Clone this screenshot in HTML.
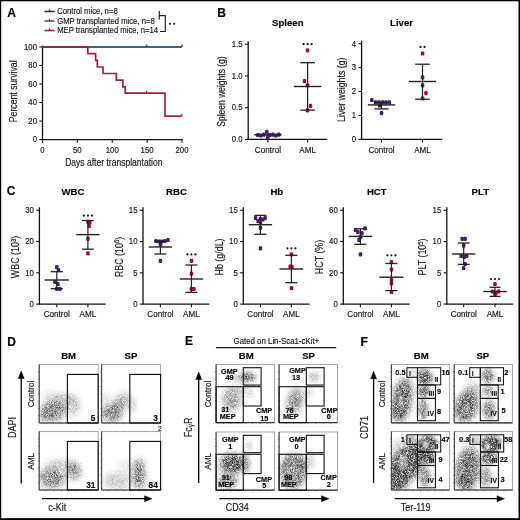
<!DOCTYPE html>
<html><head><meta charset="utf-8"><style>
html,body{margin:0;padding:0;background:#fff;}
svg{display:block;font-family:"Liberation Sans", sans-serif;will-change:transform;}
text{stroke:#1a1a1a;stroke-width:0.18px;}
</style></head><body>
<svg width="520" height="520" viewBox="0 0 520 520">
<defs><filter id="b1" x="-50%" y="-50%" width="200%" height="200%"><feGaussianBlur stdDeviation="1"/></filter><filter id="b2" x="-50%" y="-50%" width="200%" height="200%"><feGaussianBlur stdDeviation="2"/></filter><filter id="b3" x="-50%" y="-50%" width="200%" height="200%"><feGaussianBlur stdDeviation="3"/></filter><filter id="b4" x="-50%" y="-50%" width="200%" height="200%"><feGaussianBlur stdDeviation="4"/></filter><filter id="speck" x="0" y="0" width="520" height="520" filterUnits="userSpaceOnUse" color-interpolation-filters="sRGB">
<feTurbulence type="fractalNoise" baseFrequency="2.2" numOctaves="2" seed="7" result="noise"/>
<feColorMatrix in="noise" type="matrix" values="0 0 0 0 0  0 0 0 0 0  0 0 0 0 0  1.5 0 0 0 -0.25" result="na"/>
<feComposite in="SourceAlpha" in2="na" operator="arithmetic" k1="1.7" k2="0" k3="0" k4="0" result="d"/>
<feFlood flood-color="#3e3e3e" result="c"/>
<feComposite in="c" in2="d" operator="in"/>
</filter><clipPath id="c0"><rect x="39.2" y="364.6" width="59.0" height="58.4"/></clipPath><clipPath id="c1"><rect x="101.6" y="364.6" width="59.0" height="58.4"/></clipPath><clipPath id="c2"><rect x="39.2" y="431.6" width="59.0" height="58.4"/></clipPath><clipPath id="c3"><rect x="101.6" y="431.6" width="59.0" height="58.4"/></clipPath><clipPath id="c4"><rect x="216.1" y="364.4" width="58.4" height="58.2"/></clipPath><clipPath id="c5"><rect x="279.1" y="364.4" width="58.4" height="58.2"/></clipPath><clipPath id="c6"><rect x="216.1" y="432.0" width="58.4" height="58.2"/></clipPath><clipPath id="c7"><rect x="279.1" y="432.0" width="58.4" height="58.2"/></clipPath><clipPath id="c8"><rect x="391.4" y="364.5" width="58.2" height="58.4"/></clipPath><clipPath id="c9"><rect x="454.2" y="364.5" width="58.2" height="58.4"/></clipPath><clipPath id="c10"><rect x="391.4" y="431.6" width="58.2" height="58.4"/></clipPath><clipPath id="c11"><rect x="454.4" y="431.6" width="58.2" height="58.4"/></clipPath></defs>
<rect x="0" y="0" width="520" height="520" fill="#fff"/>
<text x="0" y="0" font-size="12.00" text-anchor="start" font-weight="bold" fill="#000" transform="translate(7.2 17.2)">A</text>
<line x1="44.5" y1="11.5" x2="54.5" y2="11.5" stroke="#3b2b5c" stroke-width="1.6"/>
<line x1="49.5" y1="9.3" x2="49.5" y2="11.5" stroke="#3b2b5c" stroke-width="1.2"/>
<text x="0" y="0" font-size="8.32" text-anchor="start" fill="#1a1a1a" transform="translate(57.2 14.3) scale(0.9259,1)">Control mice, n=8</text>
<line x1="44.5" y1="21.0" x2="54.5" y2="21.0" stroke="#3e5d7e" stroke-width="1.6"/>
<line x1="49.5" y1="18.8" x2="49.5" y2="21.0" stroke="#3e5d7e" stroke-width="1.2"/>
<text x="0" y="0" font-size="8.32" text-anchor="start" fill="#1a1a1a" transform="translate(57.2 23.8) scale(0.9259,1)">GMP transplanted mice, n=8</text>
<line x1="44.5" y1="30.5" x2="54.5" y2="30.5" stroke="#a2203e" stroke-width="1.6"/>
<line x1="49.5" y1="28.3" x2="49.5" y2="30.5" stroke="#a2203e" stroke-width="1.2"/>
<text x="0" y="0" font-size="8.32" text-anchor="start" fill="#1a1a1a" transform="translate(57.2 33.3) scale(0.9259,1)">MEP transplanted mice, n=14</text>
<path d="M159.3 11 V19.5 M159.3 15.6 H165.3 V31.5 H160" stroke="#222" stroke-width="1.2" fill="none"/>
<circle cx="170" cy="23.8" r="1.1" fill="#222"/><circle cx="174.2" cy="23.8" r="1.1" fill="#222"/>
<line x1="42.5" y1="45.5" x2="42.5" y2="140.1" stroke="#111" stroke-width="1.3"/>
<line x1="41.9" y1="139.6" x2="183" y2="139.6" stroke="#111" stroke-width="1.3"/>
<line x1="39.3" y1="139.6" x2="42.5" y2="139.6" stroke="#111" stroke-width="1.1"/>
<text x="0" y="0" font-size="8.42" text-anchor="end" fill="#1a1a1a" transform="translate(37 142.4) scale(0.9259,1)">0</text>
<line x1="39.3" y1="121.08" x2="42.5" y2="121.08" stroke="#111" stroke-width="1.1"/>
<text x="0" y="0" font-size="8.42" text-anchor="end" fill="#1a1a1a" transform="translate(37 123.88) scale(0.9259,1)">20</text>
<line x1="39.3" y1="102.56" x2="42.5" y2="102.56" stroke="#111" stroke-width="1.1"/>
<text x="0" y="0" font-size="8.42" text-anchor="end" fill="#1a1a1a" transform="translate(37 105.36) scale(0.9259,1)">40</text>
<line x1="39.3" y1="84.03999999999999" x2="42.5" y2="84.03999999999999" stroke="#111" stroke-width="1.1"/>
<text x="0" y="0" font-size="8.42" text-anchor="end" fill="#1a1a1a" transform="translate(37 86.83999999999999) scale(0.9259,1)">60</text>
<line x1="39.3" y1="65.52" x2="42.5" y2="65.52" stroke="#111" stroke-width="1.1"/>
<text x="0" y="0" font-size="8.42" text-anchor="end" fill="#1a1a1a" transform="translate(37 68.32) scale(0.9259,1)">80</text>
<line x1="39.3" y1="47.0" x2="42.5" y2="47.0" stroke="#111" stroke-width="1.1"/>
<text x="0" y="0" font-size="8.42" text-anchor="end" fill="#1a1a1a" transform="translate(37 49.8) scale(0.9259,1)">100</text>
<line x1="42.5" y1="139.6" x2="42.5" y2="142.79999999999998" stroke="#111" stroke-width="1.1"/>
<text x="0" y="0" font-size="8.42" text-anchor="middle" fill="#1a1a1a" transform="translate(42.5 153) scale(0.9259,1)">0</text>
<line x1="77.375" y1="139.6" x2="77.375" y2="142.79999999999998" stroke="#111" stroke-width="1.1"/>
<text x="0" y="0" font-size="8.42" text-anchor="middle" fill="#1a1a1a" transform="translate(77.375 153) scale(0.9259,1)">50</text>
<line x1="112.25" y1="139.6" x2="112.25" y2="142.79999999999998" stroke="#111" stroke-width="1.1"/>
<text x="0" y="0" font-size="8.42" text-anchor="middle" fill="#1a1a1a" transform="translate(112.25 153) scale(0.9259,1)">100</text>
<line x1="147.125" y1="139.6" x2="147.125" y2="142.79999999999998" stroke="#111" stroke-width="1.1"/>
<text x="0" y="0" font-size="8.42" text-anchor="middle" fill="#1a1a1a" transform="translate(147.125 153) scale(0.9259,1)">150</text>
<line x1="182.0" y1="139.6" x2="182.0" y2="142.79999999999998" stroke="#111" stroke-width="1.1"/>
<text x="0" y="0" font-size="8.42" text-anchor="middle" fill="#1a1a1a" transform="translate(182.0 153) scale(0.9259,1)">200</text>
<text x="0" y="0" font-size="11.14" text-anchor="middle" fill="#1a1a1a" transform="translate(17.0 91.3) rotate(-90) scale(0.7812,1)">Percent survival</text>
<text x="0" y="0" font-size="11.12" text-anchor="middle" fill="#1a1a1a" transform="translate(113.8 165.8) scale(0.7692,1)">Days after transplantation</text>
<path d="M42.5 47.0 H182" stroke="#3b2b5c" stroke-width="1.6" fill="none"/>
<path d="M42.5 47.0 H182 M146.6 47.0 v-2.5 M181.9 47.0 v-2.5" stroke="#3e5d7e" stroke-width="1.6" fill="none"/>
<path d="M42.5 47.0 H87.8 V53.6 H95.6 V60.4 H97.3 V67.0 H103.0 V73.5 H116.3 V80.2 H122.9 V86.8 H125.2 V93.2 H165.0 V116.2 H181.9" stroke="#a2203e" stroke-width="1.7" fill="none" stroke-linejoin="miter"/>
<path d="M146.6 93.2 v-2.5 M181.9 116.2 v-2.5" stroke="#a2203e" stroke-width="1.2" fill="none"/>
<text x="0" y="0" font-size="12.00" text-anchor="start" font-weight="bold" fill="#000" transform="translate(217.2 17.3)">B</text>
<line x1="248.2" y1="41.2" x2="248.2" y2="139.9" stroke="#111" stroke-width="1.3"/>
<line x1="247.6" y1="139.4" x2="327.3" y2="139.4" stroke="#111" stroke-width="1.3"/>
<line x1="245.0" y1="139.4" x2="248.2" y2="139.4" stroke="#111" stroke-width="1.1"/>
<text x="0" y="0" font-size="8.42" text-anchor="end" fill="#1a1a1a" transform="translate(242.7 142.20000000000002) scale(0.9259,1)">0.0</text>
<line x1="245.0" y1="107.66666666666667" x2="248.2" y2="107.66666666666667" stroke="#111" stroke-width="1.1"/>
<text x="0" y="0" font-size="8.42" text-anchor="end" fill="#1a1a1a" transform="translate(242.7 110.46666666666667) scale(0.9259,1)">0.5</text>
<line x1="245.0" y1="75.93333333333334" x2="248.2" y2="75.93333333333334" stroke="#111" stroke-width="1.1"/>
<text x="0" y="0" font-size="8.42" text-anchor="end" fill="#1a1a1a" transform="translate(242.7 78.73333333333333) scale(0.9259,1)">1.0</text>
<line x1="245.0" y1="44.2" x2="248.2" y2="44.2" stroke="#111" stroke-width="1.1"/>
<text x="0" y="0" font-size="8.42" text-anchor="end" fill="#1a1a1a" transform="translate(242.7 47.0) scale(0.9259,1)">1.5</text>
<line x1="267.9" y1="139.4" x2="267.9" y2="142.6" stroke="#111" stroke-width="1.1"/>
<line x1="307.59999999999997" y1="139.4" x2="307.59999999999997" y2="142.6" stroke="#111" stroke-width="1.1"/>
<text x="0" y="0" font-size="8.75" text-anchor="middle" fill="#1a1a1a" transform="translate(267.9 152.8) scale(0.9259,1)">Control</text>
<text x="0" y="0" font-size="8.75" text-anchor="middle" fill="#1a1a1a" transform="translate(307.59999999999997 152.8) scale(0.9259,1)">AML</text>
<text x="0" y="0" font-size="9.89" text-anchor="middle" font-weight="bold" fill="#000" transform="translate(287.8 26) scale(0.9709,1)">Spleen</text>
<text x="0" y="0" font-size="10.20" text-anchor="middle" fill="#1a1a1a" transform="translate(225.3 91.5) rotate(-90) scale(0.8333,1)">Spleen weights (g)</text>
<rect x="256.1" y="132.9" width="3.5" height="4.2" rx="1.2" fill="#4a1f66"/>
<rect x="259.1" y="133.4" width="3.5" height="4.2" rx="1.2" fill="#4a1f66"/>
<rect x="262.1" y="132.5" width="3.5" height="4.2" rx="1.2" fill="#4a1f66"/>
<rect x="265.1" y="129.7" width="3.5" height="4.2" rx="1.2" fill="#4a1f66"/>
<rect x="268.1" y="132.9" width="3.5" height="4.2" rx="1.2" fill="#4a1f66"/>
<rect x="271.1" y="132.5" width="3.5" height="4.2" rx="1.2" fill="#4a1f66"/>
<rect x="274.1" y="133.4" width="3.5" height="4.2" rx="1.2" fill="#4a1f66"/>
<rect x="277.1" y="132.5" width="3.5" height="4.2" rx="1.2" fill="#4a1f66"/>
<rect x="266.1" y="134.9" width="3.5" height="4.2" rx="1.2" fill="#4a1f66"/>
<line x1="267.9" y1="134.8" x2="267.9" y2="134.8" stroke="#222" stroke-width="1.2"/>
<line x1="267.9" y1="134.8" x2="267.9" y2="134.8" stroke="#222" stroke-width="1.3"/>
<line x1="267.9" y1="134.8" x2="267.9" y2="134.8" stroke="#222" stroke-width="1.3"/>
<line x1="254.24999999999997" y1="134.8" x2="281.54999999999995" y2="134.8" stroke="#222" stroke-width="1.4"/>
<rect x="305.8" y="48.2" width="3.5" height="4.2" rx="1.2" fill="#9a1535"/>
<rect x="302.8" y="79.0" width="3.5" height="4.2" rx="1.2" fill="#9a1535"/>
<rect x="305.8" y="83.2" width="3.5" height="4.2" rx="1.2" fill="#9a1535"/>
<rect x="308.8" y="103.7" width="3.5" height="4.2" rx="1.2" fill="#9a1535"/>
<rect x="305.8" y="108.3" width="3.5" height="4.2" rx="1.2" fill="#9a1535"/>
<line x1="307.59999999999997" y1="62.7" x2="307.59999999999997" y2="110.1" stroke="#222" stroke-width="1.2"/>
<line x1="300.29999999999995" y1="62.7" x2="314.9" y2="62.7" stroke="#222" stroke-width="1.3"/>
<line x1="300.29999999999995" y1="110.1" x2="314.9" y2="110.1" stroke="#222" stroke-width="1.3"/>
<line x1="293.84999999999997" y1="86.5" x2="321.34999999999997" y2="86.5" stroke="#222" stroke-width="1.4"/>
<circle cx="303.6" cy="44.2" r="1.1" fill="#111"/>
<circle cx="307.6" cy="44.2" r="1.1" fill="#111"/>
<circle cx="311.6" cy="44.2" r="1.1" fill="#111"/>
<line x1="361.6" y1="40.7" x2="361.6" y2="139.9" stroke="#111" stroke-width="1.3"/>
<line x1="361.0" y1="139.4" x2="442.4" y2="139.4" stroke="#111" stroke-width="1.3"/>
<line x1="358.40000000000003" y1="139.4" x2="361.6" y2="139.4" stroke="#111" stroke-width="1.1"/>
<text x="0" y="0" font-size="8.42" text-anchor="end" fill="#1a1a1a" transform="translate(356.1 142.20000000000002) scale(0.9259,1)">0</text>
<line x1="358.40000000000003" y1="115.47500000000001" x2="361.6" y2="115.47500000000001" stroke="#111" stroke-width="1.1"/>
<text x="0" y="0" font-size="8.42" text-anchor="end" fill="#1a1a1a" transform="translate(356.1 118.275) scale(0.9259,1)">1</text>
<line x1="358.40000000000003" y1="91.55000000000001" x2="361.6" y2="91.55000000000001" stroke="#111" stroke-width="1.1"/>
<text x="0" y="0" font-size="8.42" text-anchor="end" fill="#1a1a1a" transform="translate(356.1 94.35000000000001) scale(0.9259,1)">2</text>
<line x1="358.40000000000003" y1="67.625" x2="361.6" y2="67.625" stroke="#111" stroke-width="1.1"/>
<text x="0" y="0" font-size="8.42" text-anchor="end" fill="#1a1a1a" transform="translate(356.1 70.425) scale(0.9259,1)">3</text>
<line x1="358.40000000000003" y1="43.7" x2="361.6" y2="43.7" stroke="#111" stroke-width="1.1"/>
<text x="0" y="0" font-size="8.42" text-anchor="end" fill="#1a1a1a" transform="translate(356.1 46.5) scale(0.9259,1)">4</text>
<line x1="381.5" y1="139.4" x2="381.5" y2="142.6" stroke="#111" stroke-width="1.1"/>
<line x1="422.5" y1="139.4" x2="422.5" y2="142.6" stroke="#111" stroke-width="1.1"/>
<text x="0" y="0" font-size="8.75" text-anchor="middle" fill="#1a1a1a" transform="translate(381.5 152.9) scale(0.9259,1)">Control</text>
<text x="0" y="0" font-size="8.75" text-anchor="middle" fill="#1a1a1a" transform="translate(422.5 152.9) scale(0.9259,1)">AML</text>
<text x="0" y="0" font-size="9.89" text-anchor="middle" font-weight="bold" fill="#000" transform="translate(401.5 26) scale(0.9709,1)">Liver</text>
<text x="0" y="0" font-size="10.56" text-anchor="middle" fill="#1a1a1a" transform="translate(345.3 89.7) rotate(-90) scale(0.8333,1)">Liver weights (g)</text>
<rect x="370.1" y="97.9" width="3.5" height="4.2" rx="1.2" fill="#4a1f66"/>
<rect x="373.8" y="100.2" width="3.5" height="4.2" rx="1.2" fill="#4a1f66"/>
<rect x="377.2" y="100.2" width="3.5" height="4.2" rx="1.2" fill="#4a1f66"/>
<rect x="380.8" y="100.2" width="3.5" height="4.2" rx="1.2" fill="#4a1f66"/>
<rect x="384.2" y="100.2" width="3.5" height="4.2" rx="1.2" fill="#4a1f66"/>
<rect x="387.6" y="100.2" width="3.5" height="4.2" rx="1.2" fill="#4a1f66"/>
<rect x="377.8" y="103.4" width="3.5" height="4.2" rx="1.2" fill="#4a1f66"/>
<rect x="379.8" y="111.0" width="3.5" height="4.2" rx="1.2" fill="#4a1f66"/>
<line x1="381.5" y1="102.4" x2="381.5" y2="108.9" stroke="#222" stroke-width="1.2"/>
<line x1="374.35" y1="102.4" x2="388.65" y2="102.4" stroke="#222" stroke-width="1.3"/>
<line x1="374.35" y1="108.9" x2="388.65" y2="108.9" stroke="#222" stroke-width="1.3"/>
<line x1="367.85" y1="104.9" x2="395.15" y2="104.9" stroke="#222" stroke-width="1.4"/>
<rect x="420.8" y="51.4" width="3.5" height="4.2" rx="1.2" fill="#9a1535"/>
<rect x="420.8" y="75.3" width="3.5" height="4.2" rx="1.2" fill="#9a1535"/>
<rect x="420.8" y="83.3" width="3.5" height="4.2" rx="1.2" fill="#9a1535"/>
<rect x="424.2" y="91.0" width="3.5" height="4.2" rx="1.2" fill="#9a1535"/>
<rect x="420.8" y="96.4" width="3.5" height="4.2" rx="1.2" fill="#9a1535"/>
<line x1="422.5" y1="64.2" x2="422.5" y2="99.2" stroke="#222" stroke-width="1.2"/>
<line x1="415.2" y1="64.2" x2="429.8" y2="64.2" stroke="#222" stroke-width="1.3"/>
<line x1="415.2" y1="99.2" x2="429.8" y2="99.2" stroke="#222" stroke-width="1.3"/>
<line x1="408.85" y1="81.5" x2="436.15" y2="81.5" stroke="#222" stroke-width="1.4"/>
<circle cx="420.5" cy="46.9" r="1.1" fill="#111"/>
<circle cx="424.5" cy="46.9" r="1.1" fill="#111"/>
<text x="0" y="0" font-size="12.00" text-anchor="start" font-weight="bold" fill="#000" transform="translate(6.8 194.5)">C</text>
<line x1="39.4" y1="207.3" x2="39.4" y2="304.6" stroke="#111" stroke-width="1.3"/>
<line x1="38.8" y1="304.1" x2="105.80000000000001" y2="304.1" stroke="#111" stroke-width="1.3"/>
<line x1="36.199999999999996" y1="304.1" x2="39.4" y2="304.1" stroke="#111" stroke-width="1.1"/>
<text x="0" y="0" font-size="8.42" text-anchor="end" fill="#1a1a1a" transform="translate(33.9 306.90000000000003) scale(0.9259,1)">0</text>
<line x1="36.199999999999996" y1="272.83333333333337" x2="39.4" y2="272.83333333333337" stroke="#111" stroke-width="1.1"/>
<text x="0" y="0" font-size="8.42" text-anchor="end" fill="#1a1a1a" transform="translate(33.9 275.6333333333334) scale(0.9259,1)">10</text>
<line x1="36.199999999999996" y1="241.5666666666667" x2="39.4" y2="241.5666666666667" stroke="#111" stroke-width="1.1"/>
<text x="0" y="0" font-size="8.42" text-anchor="end" fill="#1a1a1a" transform="translate(33.9 244.3666666666667) scale(0.9259,1)">20</text>
<line x1="36.199999999999996" y1="210.3" x2="39.4" y2="210.3" stroke="#111" stroke-width="1.1"/>
<text x="0" y="0" font-size="8.42" text-anchor="end" fill="#1a1a1a" transform="translate(33.9 213.10000000000002) scale(0.9259,1)">30</text>
<line x1="56.8" y1="304.1" x2="56.8" y2="307.3" stroke="#111" stroke-width="1.1"/>
<line x1="87.9" y1="304.1" x2="87.9" y2="307.3" stroke="#111" stroke-width="1.1"/>
<text x="0" y="0" font-size="8.75" text-anchor="middle" fill="#1a1a1a" transform="translate(56.8 316.8) scale(0.9259,1)">Control</text>
<text x="0" y="0" font-size="8.75" text-anchor="middle" fill="#1a1a1a" transform="translate(87.9 316.8) scale(0.9259,1)">AML</text>
<text x="0" y="0" font-size="9.89" text-anchor="middle" font-weight="bold" fill="#000" transform="translate(72.9 194.8) scale(0.9709,1)">WBC</text>
<text x="0" y="0" font-size="10.68" text-anchor="middle" fill="#1a1a1a" transform="translate(19.0 257) rotate(-90) scale(0.8333,1)">WBC (10<tspan font-size="7" dy="-3.4">3</tspan><tspan dy="3.4">)</tspan></text>
<rect x="55.0" y="265.1" width="3.5" height="4.2" rx="1.2" fill="#4a1f66"/>
<rect x="56.8" y="267.9" width="3.5" height="4.2" rx="1.2" fill="#4a1f66"/>
<rect x="53.2" y="279.9" width="3.5" height="4.2" rx="1.2" fill="#4a1f66"/>
<rect x="56.2" y="281.9" width="3.5" height="4.2" rx="1.2" fill="#4a1f66"/>
<rect x="55.0" y="286.7" width="3.5" height="4.2" rx="1.2" fill="#4a1f66"/>
<rect x="58.2" y="286.7" width="3.5" height="4.2" rx="1.2" fill="#4a1f66"/>
<line x1="56.8" y1="271.7" x2="56.8" y2="288.7" stroke="#222" stroke-width="1.2"/>
<line x1="50.65" y1="271.7" x2="62.949999999999996" y2="271.7" stroke="#222" stroke-width="1.3"/>
<line x1="50.65" y1="288.7" x2="62.949999999999996" y2="288.7" stroke="#222" stroke-width="1.3"/>
<line x1="44.65" y1="280.0" x2="68.95" y2="280.0" stroke="#222" stroke-width="1.4"/>
<rect x="86.2" y="219.7" width="3.5" height="4.2" rx="1.2" fill="#9a1535"/>
<rect x="88.0" y="220.4" width="3.5" height="4.2" rx="1.2" fill="#9a1535"/>
<rect x="87.4" y="223.9" width="3.5" height="4.2" rx="1.2" fill="#9a1535"/>
<rect x="86.2" y="236.7" width="3.5" height="4.2" rx="1.2" fill="#9a1535"/>
<rect x="86.2" y="251.3" width="3.5" height="4.2" rx="1.2" fill="#9a1535"/>
<line x1="87.9" y1="220.5" x2="87.9" y2="249.2" stroke="#222" stroke-width="1.2"/>
<line x1="82.05000000000001" y1="220.5" x2="93.75" y2="220.5" stroke="#222" stroke-width="1.3"/>
<line x1="82.05000000000001" y1="249.2" x2="93.75" y2="249.2" stroke="#222" stroke-width="1.3"/>
<line x1="76.30000000000001" y1="234.6" x2="99.5" y2="234.6" stroke="#222" stroke-width="1.4"/>
<circle cx="83.9" cy="215.6" r="1.1" fill="#111"/>
<circle cx="87.9" cy="215.6" r="1.1" fill="#111"/>
<circle cx="91.9" cy="215.6" r="1.1" fill="#111"/>
<line x1="143.0" y1="207.3" x2="143.0" y2="304.6" stroke="#111" stroke-width="1.3"/>
<line x1="142.4" y1="304.1" x2="209.4" y2="304.1" stroke="#111" stroke-width="1.3"/>
<line x1="139.8" y1="304.1" x2="143.0" y2="304.1" stroke="#111" stroke-width="1.1"/>
<text x="0" y="0" font-size="8.42" text-anchor="end" fill="#1a1a1a" transform="translate(137.5 306.90000000000003) scale(0.9259,1)">0</text>
<line x1="139.8" y1="272.83333333333337" x2="143.0" y2="272.83333333333337" stroke="#111" stroke-width="1.1"/>
<text x="0" y="0" font-size="8.42" text-anchor="end" fill="#1a1a1a" transform="translate(137.5 275.6333333333334) scale(0.9259,1)">5</text>
<line x1="139.8" y1="241.5666666666667" x2="143.0" y2="241.5666666666667" stroke="#111" stroke-width="1.1"/>
<text x="0" y="0" font-size="8.42" text-anchor="end" fill="#1a1a1a" transform="translate(137.5 244.3666666666667) scale(0.9259,1)">10</text>
<line x1="139.8" y1="210.3" x2="143.0" y2="210.3" stroke="#111" stroke-width="1.1"/>
<text x="0" y="0" font-size="8.42" text-anchor="end" fill="#1a1a1a" transform="translate(137.5 213.10000000000002) scale(0.9259,1)">15</text>
<line x1="160.4" y1="304.1" x2="160.4" y2="307.3" stroke="#111" stroke-width="1.1"/>
<line x1="191.4" y1="304.1" x2="191.4" y2="307.3" stroke="#111" stroke-width="1.1"/>
<text x="0" y="0" font-size="8.75" text-anchor="middle" fill="#1a1a1a" transform="translate(160.4 316.8) scale(0.9259,1)">Control</text>
<text x="0" y="0" font-size="8.75" text-anchor="middle" fill="#1a1a1a" transform="translate(191.4 316.8) scale(0.9259,1)">AML</text>
<text x="0" y="0" font-size="9.89" text-anchor="middle" font-weight="bold" fill="#000" transform="translate(176.5 194.8) scale(0.9709,1)">RBC</text>
<text x="0" y="0" font-size="10.68" text-anchor="middle" fill="#1a1a1a" transform="translate(122.6 257) rotate(-90) scale(0.8333,1)">RBC (10<tspan font-size="7" dy="-3.4">6</tspan><tspan dy="3.4">)</tspan></text>
<rect x="154.2" y="238.9" width="3.5" height="4.2" rx="1.2" fill="#4a1f66"/>
<rect x="157.2" y="239.4" width="3.5" height="4.2" rx="1.2" fill="#4a1f66"/>
<rect x="160.2" y="239.4" width="3.5" height="4.2" rx="1.2" fill="#4a1f66"/>
<rect x="163.2" y="238.9" width="3.5" height="4.2" rx="1.2" fill="#4a1f66"/>
<rect x="166.2" y="237.9" width="3.5" height="4.2" rx="1.2" fill="#4a1f66"/>
<rect x="158.7" y="242.4" width="3.5" height="4.2" rx="1.2" fill="#4a1f66"/>
<rect x="158.7" y="258.7" width="3.5" height="4.2" rx="1.2" fill="#4a1f66"/>
<line x1="160.4" y1="241.0" x2="160.4" y2="254.0" stroke="#222" stroke-width="1.2"/>
<line x1="154.35" y1="241.0" x2="166.45000000000002" y2="241.0" stroke="#222" stroke-width="1.3"/>
<line x1="154.35" y1="254.0" x2="166.45000000000002" y2="254.0" stroke="#222" stroke-width="1.3"/>
<line x1="148.70000000000002" y1="247.0" x2="172.1" y2="247.0" stroke="#222" stroke-width="1.4"/>
<rect x="189.7" y="258.7" width="3.5" height="4.2" rx="1.2" fill="#9a1535"/>
<rect x="189.7" y="271.5" width="3.5" height="4.2" rx="1.2" fill="#9a1535"/>
<rect x="189.7" y="287.0" width="3.5" height="4.2" rx="1.2" fill="#9a1535"/>
<rect x="192.2" y="286.9" width="3.5" height="4.2" rx="1.2" fill="#9a1535"/>
<line x1="191.4" y1="265.0" x2="191.4" y2="292.4" stroke="#222" stroke-width="1.2"/>
<line x1="185.35" y1="265.0" x2="197.45000000000002" y2="265.0" stroke="#222" stroke-width="1.3"/>
<line x1="185.35" y1="292.4" x2="197.45000000000002" y2="292.4" stroke="#222" stroke-width="1.3"/>
<line x1="179.70000000000002" y1="279.0" x2="203.1" y2="279.0" stroke="#222" stroke-width="1.4"/>
<circle cx="187.4" cy="254.4" r="1.1" fill="#111"/>
<circle cx="191.4" cy="254.4" r="1.1" fill="#111"/>
<circle cx="195.4" cy="254.4" r="1.1" fill="#111"/>
<line x1="243.3" y1="207.3" x2="243.3" y2="304.6" stroke="#111" stroke-width="1.3"/>
<line x1="242.70000000000002" y1="304.1" x2="309.70000000000005" y2="304.1" stroke="#111" stroke-width="1.3"/>
<line x1="240.10000000000002" y1="304.1" x2="243.3" y2="304.1" stroke="#111" stroke-width="1.1"/>
<text x="0" y="0" font-size="8.42" text-anchor="end" fill="#1a1a1a" transform="translate(237.8 306.90000000000003) scale(0.9259,1)">0</text>
<line x1="240.10000000000002" y1="272.83333333333337" x2="243.3" y2="272.83333333333337" stroke="#111" stroke-width="1.1"/>
<text x="0" y="0" font-size="8.42" text-anchor="end" fill="#1a1a1a" transform="translate(237.8 275.6333333333334) scale(0.9259,1)">5</text>
<line x1="240.10000000000002" y1="241.5666666666667" x2="243.3" y2="241.5666666666667" stroke="#111" stroke-width="1.1"/>
<text x="0" y="0" font-size="8.42" text-anchor="end" fill="#1a1a1a" transform="translate(237.8 244.3666666666667) scale(0.9259,1)">10</text>
<line x1="240.10000000000002" y1="210.3" x2="243.3" y2="210.3" stroke="#111" stroke-width="1.1"/>
<text x="0" y="0" font-size="8.42" text-anchor="end" fill="#1a1a1a" transform="translate(237.8 213.10000000000002) scale(0.9259,1)">15</text>
<line x1="260.40000000000003" y1="304.1" x2="260.40000000000003" y2="307.3" stroke="#111" stroke-width="1.1"/>
<line x1="291.40000000000003" y1="304.1" x2="291.40000000000003" y2="307.3" stroke="#111" stroke-width="1.1"/>
<text x="0" y="0" font-size="8.75" text-anchor="middle" fill="#1a1a1a" transform="translate(260.40000000000003 316.8) scale(0.9259,1)">Control</text>
<text x="0" y="0" font-size="8.75" text-anchor="middle" fill="#1a1a1a" transform="translate(291.40000000000003 316.8) scale(0.9259,1)">AML</text>
<text x="0" y="0" font-size="9.89" text-anchor="middle" font-weight="bold" fill="#000" transform="translate(276.8 194.8) scale(0.9709,1)">Hb</text>
<text x="0" y="0" font-size="10.68" text-anchor="middle" fill="#1a1a1a" transform="translate(222.9 257) rotate(-90) scale(0.8333,1)">Hb (g/dL)</text>
<rect x="253.8" y="215.9" width="3.5" height="4.2" rx="1.2" fill="#4a1f66"/>
<rect x="256.3" y="218.9" width="3.5" height="4.2" rx="1.2" fill="#4a1f66"/>
<rect x="258.7" y="216.9" width="3.5" height="4.2" rx="1.2" fill="#4a1f66"/>
<rect x="261.1" y="217.4" width="3.5" height="4.2" rx="1.2" fill="#4a1f66"/>
<rect x="263.4" y="215.9" width="3.5" height="4.2" rx="1.2" fill="#4a1f66"/>
<rect x="258.7" y="220.9" width="3.5" height="4.2" rx="1.2" fill="#4a1f66"/>
<rect x="258.7" y="225.8" width="3.5" height="4.2" rx="1.2" fill="#4a1f66"/>
<rect x="258.7" y="246.2" width="3.5" height="4.2" rx="1.2" fill="#4a1f66"/>
<line x1="260.40000000000003" y1="215.4" x2="260.40000000000003" y2="234.3" stroke="#222" stroke-width="1.2"/>
<line x1="254.35000000000002" y1="215.4" x2="266.45000000000005" y2="215.4" stroke="#222" stroke-width="1.3"/>
<line x1="254.35000000000002" y1="234.3" x2="266.45000000000005" y2="234.3" stroke="#222" stroke-width="1.3"/>
<line x1="248.70000000000005" y1="224.7" x2="272.1" y2="224.7" stroke="#222" stroke-width="1.4"/>
<rect x="289.7" y="252.3" width="3.5" height="4.2" rx="1.2" fill="#9a1535"/>
<rect x="288.5" y="264.4" width="3.5" height="4.2" rx="1.2" fill="#9a1535"/>
<rect x="290.2" y="264.7" width="3.5" height="4.2" rx="1.2" fill="#9a1535"/>
<rect x="289.7" y="286.1" width="3.5" height="4.2" rx="1.2" fill="#9a1535"/>
<line x1="291.40000000000003" y1="255.3" x2="291.40000000000003" y2="282.7" stroke="#222" stroke-width="1.2"/>
<line x1="285.35" y1="255.3" x2="297.45000000000005" y2="255.3" stroke="#222" stroke-width="1.3"/>
<line x1="285.35" y1="282.7" x2="297.45000000000005" y2="282.7" stroke="#222" stroke-width="1.3"/>
<line x1="279.55" y1="269.0" x2="303.25000000000006" y2="269.0" stroke="#222" stroke-width="1.4"/>
<circle cx="287.4" cy="248.3" r="1.1" fill="#111"/>
<circle cx="291.4" cy="248.3" r="1.1" fill="#111"/>
<circle cx="295.4" cy="248.3" r="1.1" fill="#111"/>
<line x1="343.3" y1="207.3" x2="343.3" y2="304.6" stroke="#111" stroke-width="1.3"/>
<line x1="342.7" y1="304.1" x2="409.70000000000005" y2="304.1" stroke="#111" stroke-width="1.3"/>
<line x1="340.1" y1="304.1" x2="343.3" y2="304.1" stroke="#111" stroke-width="1.1"/>
<text x="0" y="0" font-size="8.42" text-anchor="end" fill="#1a1a1a" transform="translate(337.8 306.90000000000003) scale(0.9259,1)">0</text>
<line x1="340.1" y1="272.83333333333337" x2="343.3" y2="272.83333333333337" stroke="#111" stroke-width="1.1"/>
<text x="0" y="0" font-size="8.42" text-anchor="end" fill="#1a1a1a" transform="translate(337.8 275.6333333333334) scale(0.9259,1)">20</text>
<line x1="340.1" y1="241.5666666666667" x2="343.3" y2="241.5666666666667" stroke="#111" stroke-width="1.1"/>
<text x="0" y="0" font-size="8.42" text-anchor="end" fill="#1a1a1a" transform="translate(337.8 244.3666666666667) scale(0.9259,1)">40</text>
<line x1="340.1" y1="210.3" x2="343.3" y2="210.3" stroke="#111" stroke-width="1.1"/>
<text x="0" y="0" font-size="8.42" text-anchor="end" fill="#1a1a1a" transform="translate(337.8 213.10000000000002) scale(0.9259,1)">60</text>
<line x1="360.40000000000003" y1="304.1" x2="360.40000000000003" y2="307.3" stroke="#111" stroke-width="1.1"/>
<line x1="391.40000000000003" y1="304.1" x2="391.40000000000003" y2="307.3" stroke="#111" stroke-width="1.1"/>
<text x="0" y="0" font-size="8.75" text-anchor="middle" fill="#1a1a1a" transform="translate(360.40000000000003 316.8) scale(0.9259,1)">Control</text>
<text x="0" y="0" font-size="8.75" text-anchor="middle" fill="#1a1a1a" transform="translate(391.40000000000003 316.8) scale(0.9259,1)">AML</text>
<text x="0" y="0" font-size="9.89" text-anchor="middle" font-weight="bold" fill="#000" transform="translate(376.8 194.8) scale(0.9709,1)">HCT</text>
<text x="0" y="0" font-size="10.68" text-anchor="middle" fill="#1a1a1a" transform="translate(322.90000000000003 257) rotate(-90) scale(0.8333,1)">HCT (%)</text>
<rect x="353.7" y="227.9" width="3.5" height="4.2" rx="1.2" fill="#4a1f66"/>
<rect x="356.2" y="229.9" width="3.5" height="4.2" rx="1.2" fill="#4a1f66"/>
<rect x="360.2" y="230.9" width="3.5" height="4.2" rx="1.2" fill="#4a1f66"/>
<rect x="363.3" y="226.3" width="3.5" height="4.2" rx="1.2" fill="#4a1f66"/>
<rect x="358.7" y="234.9" width="3.5" height="4.2" rx="1.2" fill="#4a1f66"/>
<rect x="357.2" y="237.9" width="3.5" height="4.2" rx="1.2" fill="#4a1f66"/>
<rect x="358.7" y="252.3" width="3.5" height="4.2" rx="1.2" fill="#4a1f66"/>
<line x1="360.40000000000003" y1="228.8" x2="360.40000000000003" y2="244.3" stroke="#222" stroke-width="1.2"/>
<line x1="354.35" y1="228.8" x2="366.45000000000005" y2="228.8" stroke="#222" stroke-width="1.3"/>
<line x1="354.35" y1="244.3" x2="366.45000000000005" y2="244.3" stroke="#222" stroke-width="1.3"/>
<line x1="348.65000000000003" y1="236.4" x2="372.15000000000003" y2="236.4" stroke="#222" stroke-width="1.4"/>
<rect x="389.7" y="259.9" width="3.5" height="4.2" rx="1.2" fill="#9a1535"/>
<rect x="389.7" y="267.4" width="3.5" height="4.2" rx="1.2" fill="#9a1535"/>
<rect x="389.7" y="277.9" width="3.5" height="4.2" rx="1.2" fill="#9a1535"/>
<rect x="389.7" y="281.4" width="3.5" height="4.2" rx="1.2" fill="#9a1535"/>
<rect x="389.7" y="289.9" width="3.5" height="4.2" rx="1.2" fill="#9a1535"/>
<line x1="391.40000000000003" y1="263.5" x2="391.40000000000003" y2="290.6" stroke="#222" stroke-width="1.2"/>
<line x1="385.35" y1="263.5" x2="397.45000000000005" y2="263.5" stroke="#222" stroke-width="1.3"/>
<line x1="385.35" y1="290.6" x2="397.45000000000005" y2="290.6" stroke="#222" stroke-width="1.3"/>
<line x1="379.35" y1="277.2" x2="403.45000000000005" y2="277.2" stroke="#222" stroke-width="1.4"/>
<circle cx="387.4" cy="255.3" r="1.1" fill="#111"/>
<circle cx="391.4" cy="255.3" r="1.1" fill="#111"/>
<circle cx="395.4" cy="255.3" r="1.1" fill="#111"/>
<line x1="446.8" y1="207.3" x2="446.8" y2="304.6" stroke="#111" stroke-width="1.3"/>
<line x1="446.2" y1="304.1" x2="513.2" y2="304.1" stroke="#111" stroke-width="1.3"/>
<line x1="443.6" y1="304.1" x2="446.8" y2="304.1" stroke="#111" stroke-width="1.1"/>
<text x="0" y="0" font-size="8.42" text-anchor="end" fill="#1a1a1a" transform="translate(441.3 306.90000000000003) scale(0.9259,1)">0</text>
<line x1="443.6" y1="272.83333333333337" x2="446.8" y2="272.83333333333337" stroke="#111" stroke-width="1.1"/>
<text x="0" y="0" font-size="8.42" text-anchor="end" fill="#1a1a1a" transform="translate(441.3 275.6333333333334) scale(0.9259,1)">5</text>
<line x1="443.6" y1="241.5666666666667" x2="446.8" y2="241.5666666666667" stroke="#111" stroke-width="1.1"/>
<text x="0" y="0" font-size="8.42" text-anchor="end" fill="#1a1a1a" transform="translate(441.3 244.3666666666667) scale(0.9259,1)">10</text>
<line x1="443.6" y1="210.3" x2="446.8" y2="210.3" stroke="#111" stroke-width="1.1"/>
<text x="0" y="0" font-size="8.42" text-anchor="end" fill="#1a1a1a" transform="translate(441.3 213.10000000000002) scale(0.9259,1)">15</text>
<line x1="463.7" y1="304.1" x2="463.7" y2="307.3" stroke="#111" stroke-width="1.1"/>
<line x1="495.0" y1="304.1" x2="495.0" y2="307.3" stroke="#111" stroke-width="1.1"/>
<text x="0" y="0" font-size="8.75" text-anchor="middle" fill="#1a1a1a" transform="translate(463.7 316.8) scale(0.9259,1)">Control</text>
<text x="0" y="0" font-size="8.75" text-anchor="middle" fill="#1a1a1a" transform="translate(495.0 316.8) scale(0.9259,1)">AML</text>
<text x="0" y="0" font-size="9.89" text-anchor="middle" font-weight="bold" fill="#000" transform="translate(480.3 194.8) scale(0.9709,1)">PLT</text>
<text x="0" y="0" font-size="10.68" text-anchor="middle" fill="#1a1a1a" transform="translate(426.40000000000003 257) rotate(-90) scale(0.8333,1)">PLT (10<tspan font-size="7" dy="-3.4">5</tspan><tspan dy="3.4">)</tspan></text>
<rect x="460.4" y="236.7" width="3.5" height="4.2" rx="1.2" fill="#4a1f66"/>
<rect x="463.4" y="236.7" width="3.5" height="4.2" rx="1.2" fill="#4a1f66"/>
<rect x="461.9" y="243.5" width="3.5" height="4.2" rx="1.2" fill="#4a1f66"/>
<rect x="459.4" y="253.9" width="3.5" height="4.2" rx="1.2" fill="#4a1f66"/>
<rect x="462.4" y="254.9" width="3.5" height="4.2" rx="1.2" fill="#4a1f66"/>
<rect x="464.9" y="253.9" width="3.5" height="4.2" rx="1.2" fill="#4a1f66"/>
<rect x="463.4" y="261.9" width="3.5" height="4.2" rx="1.2" fill="#4a1f66"/>
<rect x="461.9" y="265.9" width="3.5" height="4.2" rx="1.2" fill="#4a1f66"/>
<line x1="463.7" y1="243.0" x2="463.7" y2="264.4" stroke="#222" stroke-width="1.2"/>
<line x1="457.75" y1="243.0" x2="469.65" y2="243.0" stroke="#222" stroke-width="1.3"/>
<line x1="457.75" y1="264.4" x2="469.65" y2="264.4" stroke="#222" stroke-width="1.3"/>
<line x1="452.09999999999997" y1="254.0" x2="475.3" y2="254.0" stroke="#222" stroke-width="1.4"/>
<rect x="493.2" y="281.9" width="3.5" height="4.2" rx="1.2" fill="#9a1535"/>
<rect x="490.8" y="289.4" width="3.5" height="4.2" rx="1.2" fill="#9a1535"/>
<rect x="494.2" y="290.9" width="3.5" height="4.2" rx="1.2" fill="#9a1535"/>
<rect x="496.8" y="289.4" width="3.5" height="4.2" rx="1.2" fill="#9a1535"/>
<rect x="493.2" y="292.4" width="3.5" height="4.2" rx="1.2" fill="#9a1535"/>
<line x1="495.0" y1="287.3" x2="495.0" y2="296.4" stroke="#222" stroke-width="1.2"/>
<line x1="489.55" y1="287.3" x2="500.45" y2="287.3" stroke="#222" stroke-width="1.3"/>
<line x1="489.55" y1="296.4" x2="500.45" y2="296.4" stroke="#222" stroke-width="1.3"/>
<line x1="483.3" y1="291.5" x2="506.7" y2="291.5" stroke="#222" stroke-width="1.4"/>
<circle cx="491.0" cy="279.0" r="1.1" fill="#111"/>
<circle cx="495.0" cy="279.0" r="1.1" fill="#111"/>
<circle cx="499.0" cy="279.0" r="1.1" fill="#111"/>
<text x="0" y="0" font-size="12.00" text-anchor="start" font-weight="bold" fill="#000" transform="translate(7.2 345.6)">D</text>
<text x="0" y="0" font-size="9.89" text-anchor="middle" font-weight="bold" fill="#000" transform="translate(68.6 359.2) scale(0.9709,1)">BM</text>
<text x="0" y="0" font-size="9.89" text-anchor="middle" font-weight="bold" fill="#000" transform="translate(131.0 359.2) scale(0.9709,1)">SP</text>
<g clip-path="url(#c0)"><g filter="url(#speck)">
<ellipse cx="53" cy="411" rx="13" ry="10" fill="#000" opacity="0.6" transform="rotate(0 53 411)" filter="url(#b3)"/>
<ellipse cx="62" cy="401" rx="12" ry="7" fill="#000" opacity="0.35" transform="rotate(-15 62 401)" filter="url(#b3)"/>
<ellipse cx="74" cy="406" rx="6" ry="10" fill="#000" opacity="0.3" transform="rotate(0 74 406)" filter="url(#b3)"/>
<ellipse cx="45" cy="417" rx="7" ry="5" fill="#000" opacity="0.3" transform="rotate(0 45 417)" filter="url(#b3)"/>
<ellipse cx="50" cy="396" rx="8" ry="5" fill="#000" opacity="0.15" transform="rotate(0 50 396)" filter="url(#b3)"/>
</g></g>
<rect x="39.2" y="364.6" width="59.0" height="58.4" stroke="#9a9a9a" stroke-width="0.9" fill="none"/>
<line x1="39.2" y1="364.6" x2="39.2" y2="423.0" stroke="#444" stroke-width="1.1"/>
<line x1="39.2" y1="423.0" x2="98.2" y2="423.0" stroke="#333" stroke-width="1.2"/>
<line x1="46.575" y1="423.0" x2="46.575" y2="424.3" stroke="#555" stroke-width="0.7"/>
<line x1="37.900000000000006" y1="371.90000000000003" x2="39.2" y2="371.90000000000003" stroke="#555" stroke-width="0.7"/>
<line x1="53.95" y1="423.0" x2="53.95" y2="424.3" stroke="#555" stroke-width="0.7"/>
<line x1="37.900000000000006" y1="379.20000000000005" x2="39.2" y2="379.20000000000005" stroke="#555" stroke-width="0.7"/>
<line x1="61.325" y1="423.0" x2="61.325" y2="424.3" stroke="#555" stroke-width="0.7"/>
<line x1="37.900000000000006" y1="386.5" x2="39.2" y2="386.5" stroke="#555" stroke-width="0.7"/>
<line x1="68.7" y1="423.0" x2="68.7" y2="424.3" stroke="#555" stroke-width="0.7"/>
<line x1="37.900000000000006" y1="393.8" x2="39.2" y2="393.8" stroke="#555" stroke-width="0.7"/>
<line x1="76.075" y1="423.0" x2="76.075" y2="424.3" stroke="#555" stroke-width="0.7"/>
<line x1="37.900000000000006" y1="401.1" x2="39.2" y2="401.1" stroke="#555" stroke-width="0.7"/>
<line x1="83.45" y1="423.0" x2="83.45" y2="424.3" stroke="#555" stroke-width="0.7"/>
<line x1="37.900000000000006" y1="408.40000000000003" x2="39.2" y2="408.40000000000003" stroke="#555" stroke-width="0.7"/>
<line x1="90.825" y1="423.0" x2="90.825" y2="424.3" stroke="#555" stroke-width="0.7"/>
<line x1="37.900000000000006" y1="415.70000000000005" x2="39.2" y2="415.70000000000005" stroke="#555" stroke-width="0.7"/>
<rect x="67.4" y="374.40000000000003" width="30.8" height="48.599999999999994" stroke="#111" stroke-width="1.15" fill="none"/>
<text x="0" y="0" font-size="8.55" text-anchor="end" font-weight="bold" fill="#000" transform="translate(95.4 420.6) scale(0.9709,1)">5</text>
<g clip-path="url(#c1)"><g filter="url(#speck)">
<ellipse cx="112" cy="413" rx="10" ry="9" fill="#000" opacity="0.65" transform="rotate(0 112 413)" filter="url(#b3)"/>
<ellipse cx="122" cy="402" rx="7" ry="10" fill="#000" opacity="0.45" transform="rotate(35 122 402)" filter="url(#b3)"/>
<ellipse cx="133" cy="405" rx="3" ry="8" fill="#000" opacity="0.25" transform="rotate(0 133 405)" filter="url(#b2)"/>
<ellipse cx="106" cy="400" rx="4" ry="7" fill="#000" opacity="0.2" transform="rotate(0 106 400)" filter="url(#b3)"/>
</g></g>
<rect x="101.6" y="364.6" width="59.0" height="58.4" stroke="#9a9a9a" stroke-width="0.9" fill="none"/>
<line x1="101.6" y1="364.6" x2="101.6" y2="423.0" stroke="#444" stroke-width="1.1"/>
<line x1="101.6" y1="423.0" x2="160.6" y2="423.0" stroke="#333" stroke-width="1.2"/>
<line x1="108.975" y1="423.0" x2="108.975" y2="424.3" stroke="#555" stroke-width="0.7"/>
<line x1="100.3" y1="371.90000000000003" x2="101.6" y2="371.90000000000003" stroke="#555" stroke-width="0.7"/>
<line x1="116.35" y1="423.0" x2="116.35" y2="424.3" stroke="#555" stroke-width="0.7"/>
<line x1="100.3" y1="379.20000000000005" x2="101.6" y2="379.20000000000005" stroke="#555" stroke-width="0.7"/>
<line x1="123.725" y1="423.0" x2="123.725" y2="424.3" stroke="#555" stroke-width="0.7"/>
<line x1="100.3" y1="386.5" x2="101.6" y2="386.5" stroke="#555" stroke-width="0.7"/>
<line x1="131.1" y1="423.0" x2="131.1" y2="424.3" stroke="#555" stroke-width="0.7"/>
<line x1="100.3" y1="393.8" x2="101.6" y2="393.8" stroke="#555" stroke-width="0.7"/>
<line x1="138.475" y1="423.0" x2="138.475" y2="424.3" stroke="#555" stroke-width="0.7"/>
<line x1="100.3" y1="401.1" x2="101.6" y2="401.1" stroke="#555" stroke-width="0.7"/>
<line x1="145.85" y1="423.0" x2="145.85" y2="424.3" stroke="#555" stroke-width="0.7"/>
<line x1="100.3" y1="408.40000000000003" x2="101.6" y2="408.40000000000003" stroke="#555" stroke-width="0.7"/>
<line x1="153.225" y1="423.0" x2="153.225" y2="424.3" stroke="#555" stroke-width="0.7"/>
<line x1="100.3" y1="415.70000000000005" x2="101.6" y2="415.70000000000005" stroke="#555" stroke-width="0.7"/>
<rect x="129.79999999999998" y="374.40000000000003" width="30.8" height="48.599999999999994" stroke="#111" stroke-width="1.15" fill="none"/>
<text x="0" y="0" font-size="8.55" text-anchor="end" font-weight="bold" fill="#000" transform="translate(157.8 420.6) scale(0.9709,1)">3</text>
<g clip-path="url(#c2)"><g filter="url(#speck)">
<ellipse cx="52" cy="478" rx="13" ry="10" fill="#000" opacity="0.62" transform="rotate(0 52 478)" filter="url(#b3)"/>
<ellipse cx="74" cy="471" rx="7" ry="9" fill="#000" opacity="0.55" transform="rotate(0 74 471)" filter="url(#b3)"/>
<ellipse cx="60" cy="465" rx="15" ry="5" fill="#000" opacity="0.3" transform="rotate(0 60 465)" filter="url(#b3)"/>
</g></g>
<rect x="39.2" y="431.6" width="59.0" height="58.4" stroke="#9a9a9a" stroke-width="0.9" fill="none"/>
<line x1="39.2" y1="431.6" x2="39.2" y2="490.0" stroke="#444" stroke-width="1.1"/>
<line x1="39.2" y1="490.0" x2="98.2" y2="490.0" stroke="#333" stroke-width="1.2"/>
<line x1="46.575" y1="490.0" x2="46.575" y2="491.3" stroke="#555" stroke-width="0.7"/>
<line x1="37.900000000000006" y1="438.90000000000003" x2="39.2" y2="438.90000000000003" stroke="#555" stroke-width="0.7"/>
<line x1="53.95" y1="490.0" x2="53.95" y2="491.3" stroke="#555" stroke-width="0.7"/>
<line x1="37.900000000000006" y1="446.20000000000005" x2="39.2" y2="446.20000000000005" stroke="#555" stroke-width="0.7"/>
<line x1="61.325" y1="490.0" x2="61.325" y2="491.3" stroke="#555" stroke-width="0.7"/>
<line x1="37.900000000000006" y1="453.5" x2="39.2" y2="453.5" stroke="#555" stroke-width="0.7"/>
<line x1="68.7" y1="490.0" x2="68.7" y2="491.3" stroke="#555" stroke-width="0.7"/>
<line x1="37.900000000000006" y1="460.8" x2="39.2" y2="460.8" stroke="#555" stroke-width="0.7"/>
<line x1="76.075" y1="490.0" x2="76.075" y2="491.3" stroke="#555" stroke-width="0.7"/>
<line x1="37.900000000000006" y1="468.1" x2="39.2" y2="468.1" stroke="#555" stroke-width="0.7"/>
<line x1="83.45" y1="490.0" x2="83.45" y2="491.3" stroke="#555" stroke-width="0.7"/>
<line x1="37.900000000000006" y1="475.40000000000003" x2="39.2" y2="475.40000000000003" stroke="#555" stroke-width="0.7"/>
<line x1="90.825" y1="490.0" x2="90.825" y2="491.3" stroke="#555" stroke-width="0.7"/>
<line x1="37.900000000000006" y1="482.70000000000005" x2="39.2" y2="482.70000000000005" stroke="#555" stroke-width="0.7"/>
<rect x="67.4" y="441.40000000000003" width="30.8" height="48.599999999999994" stroke="#111" stroke-width="1.15" fill="none"/>
<text x="0" y="0" font-size="8.55" text-anchor="end" font-weight="bold" fill="#000" transform="translate(95.4 487.6) scale(0.9709,1)">31</text>
<g clip-path="url(#c3)"><g filter="url(#speck)">
<ellipse cx="139" cy="474" rx="6" ry="15" fill="#000" opacity="0.7" transform="rotate(0 139 474)" filter="url(#b3)"/>
<ellipse cx="118" cy="481" rx="14" ry="9" fill="#000" opacity="0.25" transform="rotate(0 118 481)" filter="url(#b3)"/>
<ellipse cx="126" cy="466" rx="8" ry="6" fill="#000" opacity="0.12" transform="rotate(0 126 466)" filter="url(#b3)"/>
</g></g>
<rect x="101.6" y="431.6" width="59.0" height="58.4" stroke="#9a9a9a" stroke-width="0.9" fill="none"/>
<line x1="101.6" y1="431.6" x2="101.6" y2="490.0" stroke="#444" stroke-width="1.1"/>
<line x1="101.6" y1="490.0" x2="160.6" y2="490.0" stroke="#333" stroke-width="1.2"/>
<line x1="108.975" y1="490.0" x2="108.975" y2="491.3" stroke="#555" stroke-width="0.7"/>
<line x1="100.3" y1="438.90000000000003" x2="101.6" y2="438.90000000000003" stroke="#555" stroke-width="0.7"/>
<line x1="116.35" y1="490.0" x2="116.35" y2="491.3" stroke="#555" stroke-width="0.7"/>
<line x1="100.3" y1="446.20000000000005" x2="101.6" y2="446.20000000000005" stroke="#555" stroke-width="0.7"/>
<line x1="123.725" y1="490.0" x2="123.725" y2="491.3" stroke="#555" stroke-width="0.7"/>
<line x1="100.3" y1="453.5" x2="101.6" y2="453.5" stroke="#555" stroke-width="0.7"/>
<line x1="131.1" y1="490.0" x2="131.1" y2="491.3" stroke="#555" stroke-width="0.7"/>
<line x1="100.3" y1="460.8" x2="101.6" y2="460.8" stroke="#555" stroke-width="0.7"/>
<line x1="138.475" y1="490.0" x2="138.475" y2="491.3" stroke="#555" stroke-width="0.7"/>
<line x1="100.3" y1="468.1" x2="101.6" y2="468.1" stroke="#555" stroke-width="0.7"/>
<line x1="145.85" y1="490.0" x2="145.85" y2="491.3" stroke="#555" stroke-width="0.7"/>
<line x1="100.3" y1="475.40000000000003" x2="101.6" y2="475.40000000000003" stroke="#555" stroke-width="0.7"/>
<line x1="153.225" y1="490.0" x2="153.225" y2="491.3" stroke="#555" stroke-width="0.7"/>
<line x1="100.3" y1="482.70000000000005" x2="101.6" y2="482.70000000000005" stroke="#555" stroke-width="0.7"/>
<rect x="129.79999999999998" y="441.40000000000003" width="30.8" height="48.599999999999994" stroke="#111" stroke-width="1.15" fill="none"/>
<text x="0" y="0" font-size="8.55" text-anchor="end" font-weight="bold" fill="#000" transform="translate(157.8 487.6) scale(0.9709,1)">84</text>
<text x="0" y="0" font-size="8.96" text-anchor="middle" fill="#1a1a1a" transform="translate(33.5 394) rotate(-90) scale(0.9259,1)">Control</text>
<text x="0" y="0" font-size="8.96" text-anchor="middle" fill="#1a1a1a" transform="translate(33.5 461.3) rotate(-90) scale(0.9259,1)">AML</text>
<text x="0" y="0" font-size="7.13" text-anchor="middle" fill="#222" transform="translate(159.8 431.2) scale(0.9259,1)">2</text>
<path d="M21.2 483.5 V375" stroke="#000" stroke-width="1.3" fill="none"/>
<path d="M21.2 371 l-3 7.5 h6 z" stroke="#000" stroke-width="0.4" fill="#000"/>
<text x="0" y="0" font-size="10.80" text-anchor="middle" fill="#1a1a1a" transform="translate(16.0 427.4) rotate(-90) scale(0.8333,1)">DAPI</text>
<path d="M42 498.7 H148" stroke="#000" stroke-width="1.3" fill="none"/>
<path d="M152 498.7 l-7.5 -3 v6 z" stroke="#000" stroke-width="0.4" fill="#000"/>
<text x="0" y="0" font-size="10.35" text-anchor="start" fill="#1a1a1a" transform="translate(48.2 510.8) scale(0.8696,1)">c-Kit</text>
<text x="0" y="0" font-size="12.00" text-anchor="start" font-weight="bold" fill="#000" transform="translate(185 345.4)">E</text>
<text x="0" y="0" font-size="8.48" text-anchor="middle" fill="#1a1a1a" transform="translate(276.4 343.8) scale(0.9259,1)">Gated on Lin-Sca1-cKit+</text>
<line x1="215.9" y1="347.7" x2="336.2" y2="347.7" stroke="#111" stroke-width="1.3"/>
<text x="0" y="0" font-size="9.89" text-anchor="middle" font-weight="bold" fill="#000" transform="translate(246.2 359.2) scale(0.9709,1)">BM</text>
<text x="0" y="0" font-size="9.89" text-anchor="middle" font-weight="bold" fill="#000" transform="translate(308.6 359.2) scale(0.9709,1)">SP</text>
<g clip-path="url(#c4)"><g filter="url(#speck)">
<ellipse cx="248" cy="377" rx="8" ry="5" fill="#000" opacity="0.65" transform="rotate(0 248 377)" filter="url(#b2)"/>
<ellipse cx="236" cy="378" rx="7" ry="4" fill="#000" opacity="0.3" transform="rotate(0 236 378)" filter="url(#b2)"/>
<ellipse cx="232" cy="399" rx="9" ry="12" fill="#000" opacity="0.5" transform="rotate(15 232 399)" filter="url(#b3)"/>
<ellipse cx="243" cy="388" rx="4" ry="4" fill="#000" opacity="0.3" transform="rotate(0 243 388)" filter="url(#b2)"/>
<ellipse cx="250" cy="393" rx="4" ry="5" fill="#000" opacity="0.2" transform="rotate(0 250 393)" filter="url(#b2)"/>
</g></g>
<rect x="216.1" y="364.4" width="58.4" height="58.2" stroke="#9a9a9a" stroke-width="0.9" fill="none"/>
<line x1="216.1" y1="364.4" x2="216.1" y2="422.59999999999997" stroke="#444" stroke-width="1.1"/>
<line x1="216.1" y1="422.59999999999997" x2="274.5" y2="422.59999999999997" stroke="#333" stroke-width="1.2"/>
<line x1="223.4" y1="422.59999999999997" x2="223.4" y2="423.9" stroke="#555" stroke-width="0.7"/>
<line x1="214.79999999999998" y1="371.67499999999995" x2="216.1" y2="371.67499999999995" stroke="#555" stroke-width="0.7"/>
<line x1="230.7" y1="422.59999999999997" x2="230.7" y2="423.9" stroke="#555" stroke-width="0.7"/>
<line x1="214.79999999999998" y1="378.95" x2="216.1" y2="378.95" stroke="#555" stroke-width="0.7"/>
<line x1="238.0" y1="422.59999999999997" x2="238.0" y2="423.9" stroke="#555" stroke-width="0.7"/>
<line x1="214.79999999999998" y1="386.22499999999997" x2="216.1" y2="386.22499999999997" stroke="#555" stroke-width="0.7"/>
<line x1="245.29999999999998" y1="422.59999999999997" x2="245.29999999999998" y2="423.9" stroke="#555" stroke-width="0.7"/>
<line x1="214.79999999999998" y1="393.5" x2="216.1" y2="393.5" stroke="#555" stroke-width="0.7"/>
<line x1="252.6" y1="422.59999999999997" x2="252.6" y2="423.9" stroke="#555" stroke-width="0.7"/>
<line x1="214.79999999999998" y1="400.775" x2="216.1" y2="400.775" stroke="#555" stroke-width="0.7"/>
<line x1="259.9" y1="422.59999999999997" x2="259.9" y2="423.9" stroke="#555" stroke-width="0.7"/>
<line x1="214.79999999999998" y1="408.04999999999995" x2="216.1" y2="408.04999999999995" stroke="#555" stroke-width="0.7"/>
<line x1="267.2" y1="422.59999999999997" x2="267.2" y2="423.9" stroke="#555" stroke-width="0.7"/>
<line x1="214.79999999999998" y1="415.325" x2="216.1" y2="415.325" stroke="#555" stroke-width="0.7"/>
<rect x="216.1" y="386.7" width="27.2" height="35.900000000000006" stroke="#111" stroke-width="1.1" fill="none"/>
<rect x="243.29999999999998" y="367.7" width="17.8" height="17.4" stroke="#111" stroke-width="1.1" fill="none"/>
<rect x="243.29999999999998" y="386.7" width="17.8" height="19.3" stroke="#111" stroke-width="1.1" fill="none"/>
<text x="0" y="0" font-size="7.52" text-anchor="middle" font-weight="bold" fill="#000" transform="translate(229.4 373.9) scale(0.9709,1)">GMP</text>
<text x="0" y="0" font-size="7.52" text-anchor="middle" font-weight="bold" fill="#000" transform="translate(229.6 380.4) scale(0.9709,1)">49</text>
<text x="0" y="0" font-size="7.52" text-anchor="middle" font-weight="bold" fill="#000" transform="translate(225.2 411.7) scale(0.9709,1)">31</text>
<text x="0" y="0" font-size="7.52" text-anchor="middle" font-weight="bold" fill="#000" transform="translate(227.6 419.3) scale(0.9709,1)">MEP</text>
<text x="0" y="0" font-size="7.52" text-anchor="middle" font-weight="bold" fill="#000" transform="translate(264.0 412.9) scale(0.9709,1)">CMP</text>
<text x="0" y="0" font-size="7.52" text-anchor="middle" font-weight="bold" fill="#000" transform="translate(264.2 420.7) scale(0.9709,1)">15</text>
<g clip-path="url(#c5)"><g filter="url(#speck)">
<ellipse cx="295" cy="401" rx="8" ry="13" fill="#000" opacity="0.55" transform="rotate(20 295 401)" filter="url(#b3)"/>
<ellipse cx="314" cy="377" rx="6" ry="5" fill="#000" opacity="0.3" transform="rotate(0 314 377)" filter="url(#b2)"/>
<ellipse cx="310" cy="392" rx="4" ry="5" fill="#000" opacity="0.15" transform="rotate(0 310 392)" filter="url(#b2)"/>
</g></g>
<rect x="279.1" y="364.4" width="58.4" height="58.2" stroke="#9a9a9a" stroke-width="0.9" fill="none"/>
<line x1="279.1" y1="364.4" x2="279.1" y2="422.59999999999997" stroke="#444" stroke-width="1.1"/>
<line x1="279.1" y1="422.59999999999997" x2="337.5" y2="422.59999999999997" stroke="#333" stroke-width="1.2"/>
<line x1="286.40000000000003" y1="422.59999999999997" x2="286.40000000000003" y2="423.9" stroke="#555" stroke-width="0.7"/>
<line x1="277.8" y1="371.67499999999995" x2="279.1" y2="371.67499999999995" stroke="#555" stroke-width="0.7"/>
<line x1="293.70000000000005" y1="422.59999999999997" x2="293.70000000000005" y2="423.9" stroke="#555" stroke-width="0.7"/>
<line x1="277.8" y1="378.95" x2="279.1" y2="378.95" stroke="#555" stroke-width="0.7"/>
<line x1="301.0" y1="422.59999999999997" x2="301.0" y2="423.9" stroke="#555" stroke-width="0.7"/>
<line x1="277.8" y1="386.22499999999997" x2="279.1" y2="386.22499999999997" stroke="#555" stroke-width="0.7"/>
<line x1="308.3" y1="422.59999999999997" x2="308.3" y2="423.9" stroke="#555" stroke-width="0.7"/>
<line x1="277.8" y1="393.5" x2="279.1" y2="393.5" stroke="#555" stroke-width="0.7"/>
<line x1="315.6" y1="422.59999999999997" x2="315.6" y2="423.9" stroke="#555" stroke-width="0.7"/>
<line x1="277.8" y1="400.775" x2="279.1" y2="400.775" stroke="#555" stroke-width="0.7"/>
<line x1="322.90000000000003" y1="422.59999999999997" x2="322.90000000000003" y2="423.9" stroke="#555" stroke-width="0.7"/>
<line x1="277.8" y1="408.04999999999995" x2="279.1" y2="408.04999999999995" stroke="#555" stroke-width="0.7"/>
<line x1="330.20000000000005" y1="422.59999999999997" x2="330.20000000000005" y2="423.9" stroke="#555" stroke-width="0.7"/>
<line x1="277.8" y1="415.325" x2="279.1" y2="415.325" stroke="#555" stroke-width="0.7"/>
<rect x="279.1" y="386.7" width="27.2" height="35.900000000000006" stroke="#111" stroke-width="1.1" fill="none"/>
<rect x="306.3" y="367.7" width="17.8" height="17.4" stroke="#111" stroke-width="1.1" fill="none"/>
<rect x="306.3" y="386.7" width="17.8" height="19.3" stroke="#111" stroke-width="1.1" fill="none"/>
<text x="0" y="0" font-size="7.52" text-anchor="middle" font-weight="bold" fill="#000" transform="translate(297.5 373.3) scale(0.9709,1)">GMP</text>
<text x="0" y="0" font-size="7.52" text-anchor="middle" font-weight="bold" fill="#000" transform="translate(296.0 380.0) scale(0.9709,1)">13</text>
<text x="0" y="0" font-size="7.52" text-anchor="middle" font-weight="bold" fill="#000" transform="translate(289.6 412.9) scale(0.9709,1)">76</text>
<text x="0" y="0" font-size="7.52" text-anchor="middle" font-weight="bold" fill="#000" transform="translate(290.8 418.9) scale(0.9709,1)">MEP</text>
<text x="0" y="0" font-size="7.52" text-anchor="middle" font-weight="bold" fill="#000" transform="translate(329.4 412.9) scale(0.9709,1)">CMP</text>
<text x="0" y="0" font-size="7.52" text-anchor="middle" font-weight="bold" fill="#000" transform="translate(328.7 418.9) scale(0.9709,1)">6</text>
<g clip-path="url(#c6)"><g filter="url(#speck)">
<ellipse cx="232" cy="464" rx="12" ry="10" fill="#000" opacity="0.9" transform="rotate(0 232 464)" filter="url(#b3)"/>
<ellipse cx="228" cy="481" rx="10" ry="8" fill="#000" opacity="0.55" transform="rotate(0 228 481)" filter="url(#b3)"/>
<ellipse cx="246" cy="464" rx="4" ry="9" fill="#000" opacity="0.55" transform="rotate(0 246 464)" filter="url(#b2)"/>
<ellipse cx="249" cy="446" rx="3" ry="5" fill="#000" opacity="0.25" transform="rotate(0 249 446)" filter="url(#b2)"/>
</g></g>
<rect x="216.1" y="432.0" width="58.4" height="58.2" stroke="#9a9a9a" stroke-width="0.9" fill="none"/>
<line x1="216.1" y1="432.0" x2="216.1" y2="490.2" stroke="#444" stroke-width="1.1"/>
<line x1="216.1" y1="490.2" x2="274.5" y2="490.2" stroke="#333" stroke-width="1.2"/>
<line x1="223.4" y1="490.2" x2="223.4" y2="491.5" stroke="#555" stroke-width="0.7"/>
<line x1="214.79999999999998" y1="439.275" x2="216.1" y2="439.275" stroke="#555" stroke-width="0.7"/>
<line x1="230.7" y1="490.2" x2="230.7" y2="491.5" stroke="#555" stroke-width="0.7"/>
<line x1="214.79999999999998" y1="446.55" x2="216.1" y2="446.55" stroke="#555" stroke-width="0.7"/>
<line x1="238.0" y1="490.2" x2="238.0" y2="491.5" stroke="#555" stroke-width="0.7"/>
<line x1="214.79999999999998" y1="453.825" x2="216.1" y2="453.825" stroke="#555" stroke-width="0.7"/>
<line x1="245.29999999999998" y1="490.2" x2="245.29999999999998" y2="491.5" stroke="#555" stroke-width="0.7"/>
<line x1="214.79999999999998" y1="461.1" x2="216.1" y2="461.1" stroke="#555" stroke-width="0.7"/>
<line x1="252.6" y1="490.2" x2="252.6" y2="491.5" stroke="#555" stroke-width="0.7"/>
<line x1="214.79999999999998" y1="468.375" x2="216.1" y2="468.375" stroke="#555" stroke-width="0.7"/>
<line x1="259.9" y1="490.2" x2="259.9" y2="491.5" stroke="#555" stroke-width="0.7"/>
<line x1="214.79999999999998" y1="475.65" x2="216.1" y2="475.65" stroke="#555" stroke-width="0.7"/>
<line x1="267.2" y1="490.2" x2="267.2" y2="491.5" stroke="#555" stroke-width="0.7"/>
<line x1="214.79999999999998" y1="482.925" x2="216.1" y2="482.925" stroke="#555" stroke-width="0.7"/>
<rect x="216.1" y="454.3" width="27.2" height="35.900000000000006" stroke="#111" stroke-width="1.1" fill="none"/>
<rect x="243.29999999999998" y="435.3" width="17.8" height="17.4" stroke="#111" stroke-width="1.1" fill="none"/>
<rect x="243.29999999999998" y="454.3" width="17.8" height="19.3" stroke="#111" stroke-width="1.1" fill="none"/>
<text x="0" y="0" font-size="7.52" text-anchor="middle" font-weight="bold" fill="#000" transform="translate(230.4 442.3) scale(0.9709,1)">GMP</text>
<text x="0" y="0" font-size="7.52" text-anchor="middle" font-weight="bold" fill="#000" transform="translate(230.4 449.0) scale(0.9709,1)">1</text>
<text x="0" y="0" font-size="7.52" text-anchor="middle" font-weight="bold" fill="#000" transform="translate(225.8 479.8) scale(0.9709,1)">91</text>
<text x="0" y="0" font-size="7.52" text-anchor="middle" font-weight="bold" fill="#000" transform="translate(226.2 486.6) scale(0.9709,1)">MEP</text>
<text x="0" y="0" font-size="7.52" text-anchor="middle" font-weight="bold" fill="#000" transform="translate(263.9 481.6) scale(0.9709,1)">CMP</text>
<text x="0" y="0" font-size="7.52" text-anchor="middle" font-weight="bold" fill="#000" transform="translate(264.2 488.4) scale(0.9709,1)">5</text>
<g clip-path="url(#c7)"><g filter="url(#speck)">
<ellipse cx="293" cy="471" rx="13" ry="18" fill="#000" opacity="0.6" transform="rotate(0 293 471)" filter="url(#b2)"/>
<ellipse cx="300" cy="462" rx="6" ry="8" fill="#000" opacity="0.25" transform="rotate(0 300 462)" filter="url(#b2)"/>
<ellipse cx="310" cy="462" rx="4" ry="7" fill="#000" opacity="0.25" transform="rotate(0 310 462)" filter="url(#b2)"/>
</g></g>
<rect x="279.1" y="432.0" width="58.4" height="58.2" stroke="#9a9a9a" stroke-width="0.9" fill="none"/>
<line x1="279.1" y1="432.0" x2="279.1" y2="490.2" stroke="#444" stroke-width="1.1"/>
<line x1="279.1" y1="490.2" x2="337.5" y2="490.2" stroke="#333" stroke-width="1.2"/>
<line x1="286.40000000000003" y1="490.2" x2="286.40000000000003" y2="491.5" stroke="#555" stroke-width="0.7"/>
<line x1="277.8" y1="439.275" x2="279.1" y2="439.275" stroke="#555" stroke-width="0.7"/>
<line x1="293.70000000000005" y1="490.2" x2="293.70000000000005" y2="491.5" stroke="#555" stroke-width="0.7"/>
<line x1="277.8" y1="446.55" x2="279.1" y2="446.55" stroke="#555" stroke-width="0.7"/>
<line x1="301.0" y1="490.2" x2="301.0" y2="491.5" stroke="#555" stroke-width="0.7"/>
<line x1="277.8" y1="453.825" x2="279.1" y2="453.825" stroke="#555" stroke-width="0.7"/>
<line x1="308.3" y1="490.2" x2="308.3" y2="491.5" stroke="#555" stroke-width="0.7"/>
<line x1="277.8" y1="461.1" x2="279.1" y2="461.1" stroke="#555" stroke-width="0.7"/>
<line x1="315.6" y1="490.2" x2="315.6" y2="491.5" stroke="#555" stroke-width="0.7"/>
<line x1="277.8" y1="468.375" x2="279.1" y2="468.375" stroke="#555" stroke-width="0.7"/>
<line x1="322.90000000000003" y1="490.2" x2="322.90000000000003" y2="491.5" stroke="#555" stroke-width="0.7"/>
<line x1="277.8" y1="475.65" x2="279.1" y2="475.65" stroke="#555" stroke-width="0.7"/>
<line x1="330.20000000000005" y1="490.2" x2="330.20000000000005" y2="491.5" stroke="#555" stroke-width="0.7"/>
<line x1="277.8" y1="482.925" x2="279.1" y2="482.925" stroke="#555" stroke-width="0.7"/>
<rect x="279.1" y="454.3" width="27.2" height="35.900000000000006" stroke="#111" stroke-width="1.1" fill="none"/>
<rect x="306.3" y="435.3" width="17.8" height="17.4" stroke="#111" stroke-width="1.1" fill="none"/>
<rect x="306.3" y="454.3" width="17.8" height="19.3" stroke="#111" stroke-width="1.1" fill="none"/>
<text x="0" y="0" font-size="7.52" text-anchor="middle" font-weight="bold" fill="#000" transform="translate(297.3 441.8) scale(0.9709,1)">GMP</text>
<text x="0" y="0" font-size="7.52" text-anchor="middle" font-weight="bold" fill="#000" transform="translate(296.5 448.5) scale(0.9709,1)">0</text>
<text x="0" y="0" font-size="7.52" text-anchor="middle" font-weight="bold" fill="#000" transform="translate(288.3 480.2) scale(0.9709,1)">98</text>
<text x="0" y="0" font-size="7.52" text-anchor="middle" font-weight="bold" fill="#000" transform="translate(288.8 486.6) scale(0.9709,1)">MEP</text>
<text x="0" y="0" font-size="7.52" text-anchor="middle" font-weight="bold" fill="#000" transform="translate(328.7 480.4) scale(0.9709,1)">CMP</text>
<text x="0" y="0" font-size="7.52" text-anchor="middle" font-weight="bold" fill="#000" transform="translate(328.7 487.4) scale(0.9709,1)">2</text>
<text x="0" y="0" font-size="8.96" text-anchor="middle" fill="#1a1a1a" transform="translate(210.5 394) rotate(-90) scale(0.9259,1)">Control</text>
<text x="0" y="0" font-size="8.96" text-anchor="middle" fill="#1a1a1a" transform="translate(210.5 461.3) rotate(-90) scale(0.9259,1)">AML</text>
<path d="M198.7 483 V376" stroke="#000" stroke-width="1.3" fill="none"/>
<path d="M198.7 372 l-3 7.5 h6 z" stroke="#000" stroke-width="0.4" fill="#000"/>
<text x="0" y="0" font-size="10.80" text-anchor="middle" fill="#1a1a1a" transform="translate(192.2 427.4) rotate(-90) scale(0.8333,1)">Fc<tspan font-size="7.5" dy="1">&#947;</tspan><tspan dy="-1">R</tspan></text>
<path d="M219.4 498.7 H325" stroke="#000" stroke-width="1.3" fill="none"/>
<path d="M329 498.7 l-7.5 -3 v6 z" stroke="#000" stroke-width="0.4" fill="#000"/>
<text x="0" y="0" font-size="10.35" text-anchor="start" fill="#1a1a1a" transform="translate(225.8 510.8) scale(0.8696,1)">CD34</text>
<text x="0" y="0" font-size="12.00" text-anchor="start" font-weight="bold" fill="#000" transform="translate(360.5 345.6)">F</text>
<text x="0" y="0" font-size="9.89" text-anchor="middle" font-weight="bold" fill="#000" transform="translate(421.2 359.2) scale(0.9709,1)">BM</text>
<text x="0" y="0" font-size="9.89" text-anchor="middle" font-weight="bold" fill="#000" transform="translate(482.8 359.2) scale(0.9709,1)">SP</text>
<g clip-path="url(#c8)"><g filter="url(#speck)">
<ellipse cx="402" cy="400" rx="10" ry="22" fill="#000" opacity="0.75" transform="rotate(10 402 400)" filter="url(#b3)"/>
<ellipse cx="399" cy="411" rx="6" ry="9" fill="#000" opacity="0.3" transform="rotate(0 399 411)" filter="url(#b3)"/>
<ellipse cx="424" cy="377" rx="6" ry="8" fill="#000" opacity="0.85" transform="rotate(0 424 377)" filter="url(#b2)"/>
<ellipse cx="430" cy="378" rx="5" ry="6" fill="#000" opacity="0.4" transform="rotate(0 430 378)" filter="url(#b2)"/>
<ellipse cx="424" cy="391" rx="6" ry="6" fill="#000" opacity="0.75" transform="rotate(0 424 391)" filter="url(#b2)"/>
<ellipse cx="423" cy="409" rx="5" ry="11" fill="#000" opacity="0.6" transform="rotate(0 423 409)" filter="url(#b2)"/>
<ellipse cx="412" cy="372" rx="3" ry="3" fill="#000" opacity="0.35" transform="rotate(0 412 372)" filter="url(#b2)"/>
</g></g>
<rect x="391.4" y="364.5" width="58.2" height="58.4" stroke="#9a9a9a" stroke-width="0.9" fill="none"/>
<line x1="391.4" y1="364.5" x2="391.4" y2="422.9" stroke="#444" stroke-width="1.1"/>
<line x1="391.4" y1="422.9" x2="449.59999999999997" y2="422.9" stroke="#333" stroke-width="1.2"/>
<line x1="398.67499999999995" y1="422.9" x2="398.67499999999995" y2="424.2" stroke="#555" stroke-width="0.7"/>
<line x1="390.09999999999997" y1="371.8" x2="391.4" y2="371.8" stroke="#555" stroke-width="0.7"/>
<line x1="405.95" y1="422.9" x2="405.95" y2="424.2" stroke="#555" stroke-width="0.7"/>
<line x1="390.09999999999997" y1="379.1" x2="391.4" y2="379.1" stroke="#555" stroke-width="0.7"/>
<line x1="413.22499999999997" y1="422.9" x2="413.22499999999997" y2="424.2" stroke="#555" stroke-width="0.7"/>
<line x1="390.09999999999997" y1="386.4" x2="391.4" y2="386.4" stroke="#555" stroke-width="0.7"/>
<line x1="420.5" y1="422.9" x2="420.5" y2="424.2" stroke="#555" stroke-width="0.7"/>
<line x1="390.09999999999997" y1="393.7" x2="391.4" y2="393.7" stroke="#555" stroke-width="0.7"/>
<line x1="427.775" y1="422.9" x2="427.775" y2="424.2" stroke="#555" stroke-width="0.7"/>
<line x1="390.09999999999997" y1="401.0" x2="391.4" y2="401.0" stroke="#555" stroke-width="0.7"/>
<line x1="435.04999999999995" y1="422.9" x2="435.04999999999995" y2="424.2" stroke="#555" stroke-width="0.7"/>
<line x1="390.09999999999997" y1="408.3" x2="391.4" y2="408.3" stroke="#555" stroke-width="0.7"/>
<line x1="442.325" y1="422.9" x2="442.325" y2="424.2" stroke="#555" stroke-width="0.7"/>
<line x1="390.09999999999997" y1="415.6" x2="391.4" y2="415.6" stroke="#555" stroke-width="0.7"/>
<ellipse cx="401" cy="402" rx="3" ry="7" fill="#fff" opacity="0.3" filter="url(#b1)"/>
<rect x="406.9" y="367.7" width="10.600000000000023" height="9.6" stroke="#111" stroke-width="1.05" fill="none"/>
<rect x="417.5" y="367.7" width="23.2" height="17.2" stroke="#111" stroke-width="1.05" fill="none"/>
<rect x="417.5" y="384.9" width="17.9" height="13.5" stroke="#111" stroke-width="1.05" fill="none"/>
<rect x="417.5" y="398.4" width="17.9" height="22.3" stroke="#111" stroke-width="1.05" fill="none"/>
<text x="0" y="0" font-size="6.80" text-anchor="middle" font-weight="bold" fill="#222" transform="translate(409.9 376.09999999999997) scale(0.9709,1)">I</text>
<text x="0" y="0" font-size="6.80" text-anchor="middle" font-weight="bold" fill="#222" transform="translate(436.5 382.3) scale(0.9709,1)">II</text>
<text x="0" y="0" font-size="6.80" text-anchor="middle" font-weight="bold" fill="#222" transform="translate(431.5 396.3) scale(0.9709,1)">III</text>
<text x="0" y="0" font-size="7.00" text-anchor="middle" font-weight="bold" fill="#222" transform="translate(430.8 416.3) scale(0.9709,1)">IV</text>
<text x="0" y="0" font-size="7.62" text-anchor="middle" font-weight="bold" fill="#000" transform="translate(400.4 374.6) scale(0.9709,1)">0.5</text>
<text x="0" y="0" font-size="7.62" text-anchor="middle" font-weight="bold" fill="#000" transform="translate(445.5 374.6) scale(0.9709,1)">16</text>
<text x="0" y="0" font-size="7.62" text-anchor="middle" font-weight="bold" fill="#000" transform="translate(439.0 394.2) scale(0.9709,1)">9</text>
<text x="0" y="0" font-size="7.62" text-anchor="middle" font-weight="bold" fill="#000" transform="translate(439.0 414.3) scale(0.9709,1)">8</text>
<g clip-path="url(#c9)"><g filter="url(#speck)">
<ellipse cx="466" cy="407" rx="11" ry="15" fill="#000" opacity="0.8" transform="rotate(20 466 407)" filter="url(#b3)"/>
<ellipse cx="472" cy="392" rx="8" ry="10" fill="#000" opacity="0.35" transform="rotate(20 472 392)" filter="url(#b3)"/>
<ellipse cx="488" cy="376" rx="6" ry="7" fill="#000" opacity="0.7" transform="rotate(0 488 376)" filter="url(#b2)"/>
<ellipse cx="488" cy="391" rx="6" ry="5" fill="#000" opacity="0.5" transform="rotate(0 488 391)" filter="url(#b2)"/>
<ellipse cx="489" cy="410" rx="6" ry="10" fill="#000" opacity="0.6" transform="rotate(0 489 410)" filter="url(#b2)"/>
</g></g>
<rect x="454.2" y="364.5" width="58.2" height="58.4" stroke="#9a9a9a" stroke-width="0.9" fill="none"/>
<line x1="454.2" y1="364.5" x2="454.2" y2="422.9" stroke="#444" stroke-width="1.1"/>
<line x1="454.2" y1="422.9" x2="512.4" y2="422.9" stroke="#333" stroke-width="1.2"/>
<line x1="461.47499999999997" y1="422.9" x2="461.47499999999997" y2="424.2" stroke="#555" stroke-width="0.7"/>
<line x1="452.9" y1="371.8" x2="454.2" y2="371.8" stroke="#555" stroke-width="0.7"/>
<line x1="468.75" y1="422.9" x2="468.75" y2="424.2" stroke="#555" stroke-width="0.7"/>
<line x1="452.9" y1="379.1" x2="454.2" y2="379.1" stroke="#555" stroke-width="0.7"/>
<line x1="476.025" y1="422.9" x2="476.025" y2="424.2" stroke="#555" stroke-width="0.7"/>
<line x1="452.9" y1="386.4" x2="454.2" y2="386.4" stroke="#555" stroke-width="0.7"/>
<line x1="483.3" y1="422.9" x2="483.3" y2="424.2" stroke="#555" stroke-width="0.7"/>
<line x1="452.9" y1="393.7" x2="454.2" y2="393.7" stroke="#555" stroke-width="0.7"/>
<line x1="490.575" y1="422.9" x2="490.575" y2="424.2" stroke="#555" stroke-width="0.7"/>
<line x1="452.9" y1="401.0" x2="454.2" y2="401.0" stroke="#555" stroke-width="0.7"/>
<line x1="497.85" y1="422.9" x2="497.85" y2="424.2" stroke="#555" stroke-width="0.7"/>
<line x1="452.9" y1="408.3" x2="454.2" y2="408.3" stroke="#555" stroke-width="0.7"/>
<line x1="505.125" y1="422.9" x2="505.125" y2="424.2" stroke="#555" stroke-width="0.7"/>
<line x1="452.9" y1="415.6" x2="454.2" y2="415.6" stroke="#555" stroke-width="0.7"/>
<ellipse cx="466" cy="409" rx="4" ry="5" fill="#fff" opacity="0.3" filter="url(#b1)"/>
<rect x="469.7" y="367.7" width="10.600000000000023" height="9.6" stroke="#111" stroke-width="1.05" fill="none"/>
<rect x="480.3" y="367.7" width="23.2" height="17.2" stroke="#111" stroke-width="1.05" fill="none"/>
<rect x="480.3" y="384.9" width="17.9" height="13.5" stroke="#111" stroke-width="1.05" fill="none"/>
<rect x="480.3" y="398.4" width="17.9" height="22.3" stroke="#111" stroke-width="1.05" fill="none"/>
<text x="0" y="0" font-size="6.80" text-anchor="middle" font-weight="bold" fill="#222" transform="translate(472.7 376.09999999999997) scale(0.9709,1)">I</text>
<text x="0" y="0" font-size="6.80" text-anchor="middle" font-weight="bold" fill="#222" transform="translate(499.3 382.3) scale(0.9709,1)">II</text>
<text x="0" y="0" font-size="6.80" text-anchor="middle" font-weight="bold" fill="#222" transform="translate(494.3 396.3) scale(0.9709,1)">III</text>
<text x="0" y="0" font-size="7.00" text-anchor="middle" font-weight="bold" fill="#222" transform="translate(493.6 416.3) scale(0.9709,1)">IV</text>
<text x="0" y="0" font-size="7.62" text-anchor="middle" font-weight="bold" fill="#000" transform="translate(463.2 374.6) scale(0.9709,1)">0.1</text>
<text x="0" y="0" font-size="7.62" text-anchor="middle" font-weight="bold" fill="#000" transform="translate(506.3 374.6) scale(0.9709,1)">2</text>
<text x="0" y="0" font-size="7.62" text-anchor="middle" font-weight="bold" fill="#000" transform="translate(502.6 394.2) scale(0.9709,1)">1</text>
<text x="0" y="0" font-size="7.62" text-anchor="middle" font-weight="bold" fill="#000" transform="translate(503.6 412.7) scale(0.9709,1)">5</text>
<g clip-path="url(#c10)"><g filter="url(#speck)">
<ellipse cx="405" cy="466" rx="14" ry="28" fill="#000" opacity="0.9" transform="rotate(40 405 466)" filter="url(#b3)"/>
<ellipse cx="398" cy="484" rx="9" ry="7" fill="#000" opacity="0.55" transform="rotate(0 398 484)" filter="url(#b3)"/>
<ellipse cx="400" cy="450" rx="8" ry="10" fill="#000" opacity="0.25" transform="rotate(0 400 450)" filter="url(#b3)"/>
<ellipse cx="428" cy="444" rx="9" ry="8" fill="#000" opacity="1.0" transform="rotate(0 428 444)" filter="url(#b2)"/>
<ellipse cx="427" cy="458" rx="8" ry="6" fill="#000" opacity="0.85" transform="rotate(0 427 458)" filter="url(#b2)"/>
<ellipse cx="425" cy="477" rx="6" ry="10" fill="#000" opacity="0.55" transform="rotate(0 425 477)" filter="url(#b2)"/>
<ellipse cx="411" cy="440" rx="5" ry="4" fill="#000" opacity="0.6" transform="rotate(0 411 440)" filter="url(#b2)"/>
</g></g>
<rect x="391.4" y="431.6" width="58.2" height="58.4" stroke="#9a9a9a" stroke-width="0.9" fill="none"/>
<line x1="391.4" y1="431.6" x2="391.4" y2="490.0" stroke="#444" stroke-width="1.1"/>
<line x1="391.4" y1="490.0" x2="449.59999999999997" y2="490.0" stroke="#333" stroke-width="1.2"/>
<line x1="398.67499999999995" y1="490.0" x2="398.67499999999995" y2="491.3" stroke="#555" stroke-width="0.7"/>
<line x1="390.09999999999997" y1="438.90000000000003" x2="391.4" y2="438.90000000000003" stroke="#555" stroke-width="0.7"/>
<line x1="405.95" y1="490.0" x2="405.95" y2="491.3" stroke="#555" stroke-width="0.7"/>
<line x1="390.09999999999997" y1="446.20000000000005" x2="391.4" y2="446.20000000000005" stroke="#555" stroke-width="0.7"/>
<line x1="413.22499999999997" y1="490.0" x2="413.22499999999997" y2="491.3" stroke="#555" stroke-width="0.7"/>
<line x1="390.09999999999997" y1="453.5" x2="391.4" y2="453.5" stroke="#555" stroke-width="0.7"/>
<line x1="420.5" y1="490.0" x2="420.5" y2="491.3" stroke="#555" stroke-width="0.7"/>
<line x1="390.09999999999997" y1="460.8" x2="391.4" y2="460.8" stroke="#555" stroke-width="0.7"/>
<line x1="427.775" y1="490.0" x2="427.775" y2="491.3" stroke="#555" stroke-width="0.7"/>
<line x1="390.09999999999997" y1="468.1" x2="391.4" y2="468.1" stroke="#555" stroke-width="0.7"/>
<line x1="435.04999999999995" y1="490.0" x2="435.04999999999995" y2="491.3" stroke="#555" stroke-width="0.7"/>
<line x1="390.09999999999997" y1="475.40000000000003" x2="391.4" y2="475.40000000000003" stroke="#555" stroke-width="0.7"/>
<line x1="442.325" y1="490.0" x2="442.325" y2="491.3" stroke="#555" stroke-width="0.7"/>
<line x1="390.09999999999997" y1="482.70000000000005" x2="391.4" y2="482.70000000000005" stroke="#555" stroke-width="0.7"/>
<ellipse cx="425.5" cy="444.5" rx="2.6" ry="4.2" fill="#fff" opacity="0.7" filter="url(#b1)"/>
<ellipse cx="403" cy="462" rx="4" ry="8" fill="#fff" opacity="0.45" filter="url(#b1)"/>
<rect x="406.9" y="434.8" width="10.600000000000023" height="9.6" stroke="#111" stroke-width="1.05" fill="none"/>
<rect x="417.5" y="434.8" width="23.2" height="17.2" stroke="#111" stroke-width="1.05" fill="none"/>
<rect x="417.5" y="452.0" width="17.9" height="13.5" stroke="#111" stroke-width="1.05" fill="none"/>
<rect x="417.5" y="465.5" width="17.9" height="22.3" stroke="#111" stroke-width="1.05" fill="none"/>
<text x="0" y="0" font-size="6.80" text-anchor="middle" font-weight="bold" fill="#222" transform="translate(409.9 443.2) scale(0.9709,1)">I</text>
<text x="0" y="0" font-size="6.80" text-anchor="middle" font-weight="bold" fill="#222" transform="translate(436.5 449.40000000000003) scale(0.9709,1)">II</text>
<text x="0" y="0" font-size="6.80" text-anchor="middle" font-weight="bold" fill="#222" transform="translate(431.5 463.40000000000003) scale(0.9709,1)">III</text>
<text x="0" y="0" font-size="7.00" text-anchor="middle" font-weight="bold" fill="#222" transform="translate(430.8 483.40000000000003) scale(0.9709,1)">IV</text>
<text x="0" y="0" font-size="7.62" text-anchor="middle" font-weight="bold" fill="#000" transform="translate(402.7 442.0) scale(0.9709,1)">1</text>
<text x="0" y="0" font-size="7.62" text-anchor="middle" font-weight="bold" fill="#000" transform="translate(445.6 442.0) scale(0.9709,1)">47</text>
<text x="0" y="0" font-size="7.62" text-anchor="middle" font-weight="bold" fill="#000" transform="translate(440.5 462.3) scale(0.9709,1)">9</text>
<text x="0" y="0" font-size="7.62" text-anchor="middle" font-weight="bold" fill="#000" transform="translate(440.5 481.6) scale(0.9709,1)">4</text>
<g clip-path="url(#c11)"><g filter="url(#speck)">
<ellipse cx="468" cy="469" rx="12" ry="22" fill="#000" opacity="0.72" transform="rotate(8 468 469)" filter="url(#b3)"/>
<ellipse cx="465" cy="482" rx="8" ry="7" fill="#000" opacity="0.4" transform="rotate(0 465 482)" filter="url(#b3)"/>
<ellipse cx="491" cy="444" rx="10" ry="8" fill="#000" opacity="1.0" transform="rotate(0 491 444)" filter="url(#b2)"/>
<ellipse cx="489" cy="458" rx="8" ry="6" fill="#000" opacity="0.85" transform="rotate(0 489 458)" filter="url(#b2)"/>
<ellipse cx="486" cy="477" rx="6" ry="10" fill="#000" opacity="0.45" transform="rotate(0 486 477)" filter="url(#b2)"/>
<ellipse cx="475" cy="440" rx="5" ry="4" fill="#000" opacity="0.35" transform="rotate(0 475 440)" filter="url(#b2)"/>
</g></g>
<rect x="454.4" y="431.6" width="58.2" height="58.4" stroke="#9a9a9a" stroke-width="0.9" fill="none"/>
<line x1="454.4" y1="431.6" x2="454.4" y2="490.0" stroke="#444" stroke-width="1.1"/>
<line x1="454.4" y1="490.0" x2="512.6" y2="490.0" stroke="#333" stroke-width="1.2"/>
<line x1="461.67499999999995" y1="490.0" x2="461.67499999999995" y2="491.3" stroke="#555" stroke-width="0.7"/>
<line x1="453.09999999999997" y1="438.90000000000003" x2="454.4" y2="438.90000000000003" stroke="#555" stroke-width="0.7"/>
<line x1="468.95" y1="490.0" x2="468.95" y2="491.3" stroke="#555" stroke-width="0.7"/>
<line x1="453.09999999999997" y1="446.20000000000005" x2="454.4" y2="446.20000000000005" stroke="#555" stroke-width="0.7"/>
<line x1="476.22499999999997" y1="490.0" x2="476.22499999999997" y2="491.3" stroke="#555" stroke-width="0.7"/>
<line x1="453.09999999999997" y1="453.5" x2="454.4" y2="453.5" stroke="#555" stroke-width="0.7"/>
<line x1="483.5" y1="490.0" x2="483.5" y2="491.3" stroke="#555" stroke-width="0.7"/>
<line x1="453.09999999999997" y1="460.8" x2="454.4" y2="460.8" stroke="#555" stroke-width="0.7"/>
<line x1="490.775" y1="490.0" x2="490.775" y2="491.3" stroke="#555" stroke-width="0.7"/>
<line x1="453.09999999999997" y1="468.1" x2="454.4" y2="468.1" stroke="#555" stroke-width="0.7"/>
<line x1="498.04999999999995" y1="490.0" x2="498.04999999999995" y2="491.3" stroke="#555" stroke-width="0.7"/>
<line x1="453.09999999999997" y1="475.40000000000003" x2="454.4" y2="475.40000000000003" stroke="#555" stroke-width="0.7"/>
<line x1="505.325" y1="490.0" x2="505.325" y2="491.3" stroke="#555" stroke-width="0.7"/>
<line x1="453.09999999999997" y1="482.70000000000005" x2="454.4" y2="482.70000000000005" stroke="#555" stroke-width="0.7"/>
<ellipse cx="488" cy="446" rx="3" ry="3.6" fill="#fff" opacity="0.65" filter="url(#b1)"/>
<rect x="469.9" y="434.8" width="10.600000000000023" height="9.6" stroke="#111" stroke-width="1.05" fill="none"/>
<rect x="480.5" y="434.8" width="23.2" height="17.2" stroke="#111" stroke-width="1.05" fill="none"/>
<rect x="480.5" y="452.0" width="17.9" height="13.5" stroke="#111" stroke-width="1.05" fill="none"/>
<rect x="480.5" y="465.5" width="17.9" height="22.3" stroke="#111" stroke-width="1.05" fill="none"/>
<text x="0" y="0" font-size="6.80" text-anchor="middle" font-weight="bold" fill="#222" transform="translate(472.9 443.2) scale(0.9709,1)">I</text>
<text x="0" y="0" font-size="6.80" text-anchor="middle" font-weight="bold" fill="#222" transform="translate(499.5 449.40000000000003) scale(0.9709,1)">II</text>
<text x="0" y="0" font-size="6.80" text-anchor="middle" font-weight="bold" fill="#222" transform="translate(494.5 463.40000000000003) scale(0.9709,1)">III</text>
<text x="0" y="0" font-size="7.00" text-anchor="middle" font-weight="bold" fill="#222" transform="translate(493.8 483.40000000000003) scale(0.9709,1)">IV</text>
<text x="0" y="0" font-size="7.62" text-anchor="middle" font-weight="bold" fill="#000" transform="translate(464.2 442.0) scale(0.9709,1)">0.3</text>
<text x="0" y="0" font-size="7.62" text-anchor="middle" font-weight="bold" fill="#000" transform="translate(508.2 442.0) scale(0.9709,1)">58</text>
<text x="0" y="0" font-size="7.62" text-anchor="middle" font-weight="bold" fill="#000" transform="translate(503.8 462.3) scale(0.9709,1)">22</text>
<text x="0" y="0" font-size="7.62" text-anchor="middle" font-weight="bold" fill="#000" transform="translate(502.5 481.6) scale(0.9709,1)">3</text>
<text x="0" y="0" font-size="8.96" text-anchor="middle" fill="#1a1a1a" transform="translate(385.2 394) rotate(-90) scale(0.9259,1)">Control</text>
<text x="0" y="0" font-size="8.96" text-anchor="middle" fill="#1a1a1a" transform="translate(385.2 461.3) rotate(-90) scale(0.9259,1)">AML</text>
<path d="M373.6 483 V375.3" stroke="#000" stroke-width="1.3" fill="none"/>
<path d="M373.6 371.3 l-3 7.5 h6 z" stroke="#000" stroke-width="0.4" fill="#000"/>
<text x="0" y="0" font-size="10.80" text-anchor="middle" fill="#1a1a1a" transform="translate(367.8 427.4) rotate(-90) scale(0.8333,1)">CD71</text>
<path d="M394.6 498.7 H500.5" stroke="#000" stroke-width="1.3" fill="none"/>
<path d="M504.5 498.7 l-7.5 -3 v6 z" stroke="#000" stroke-width="0.4" fill="#000"/>
<text x="0" y="0" font-size="10.35" text-anchor="start" fill="#1a1a1a" transform="translate(400.8 510.8) scale(0.8696,1)">Ter-119</text>
<rect x="0" y="0" width="520" height="1.3" fill="#000"/><rect x="0" y="518.2" width="520" height="1.8" fill="#000"/><rect x="0" y="0" width="1.2" height="520" fill="#000"/><rect x="518.5" y="0" width="1.5" height="520" fill="#000"/>
</svg>
</body></html>
